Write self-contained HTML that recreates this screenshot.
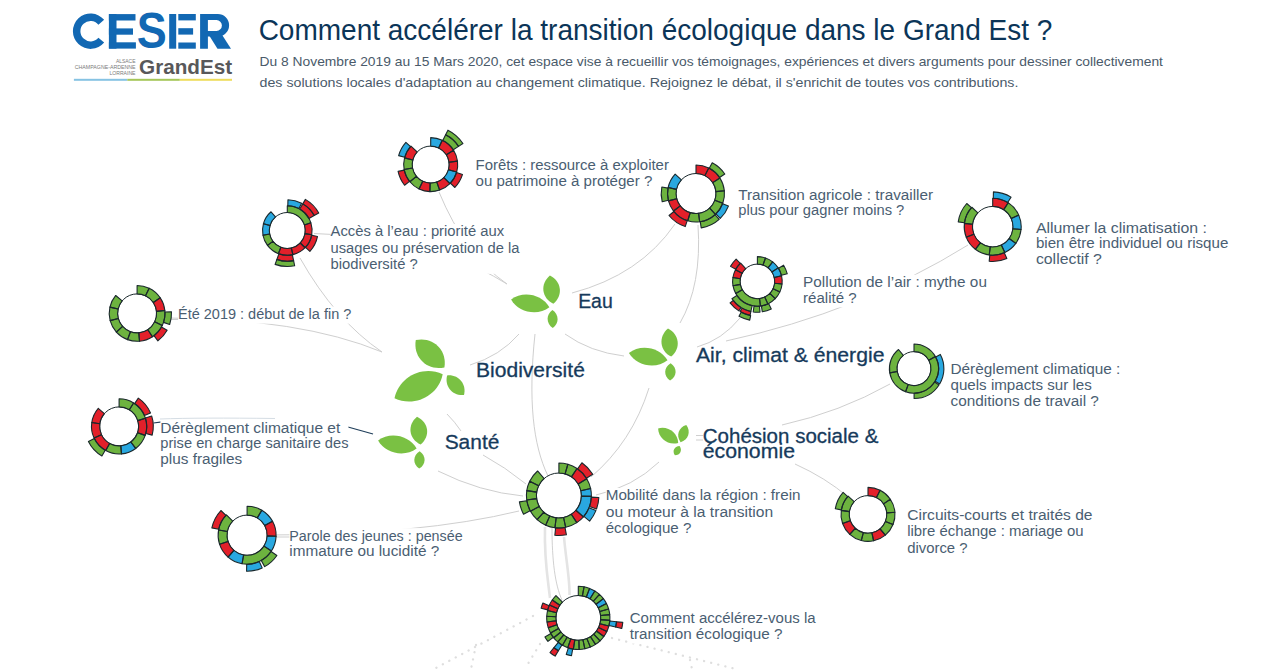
<!DOCTYPE html><html><head><meta charset="utf-8"><style>
html,body{margin:0;padding:0;background:#fff;width:1263px;height:670px;overflow:hidden}
svg{display:block;font-family:"Liberation Sans",sans-serif}
</style></head><body>
<svg width="1263" height="670" viewBox="0 0 1263 670">
<rect width="1263" height="670" fill="#fff"/>
<g fill="#1268b3">
<path d="M104.16,19.82 A17.7,17.7 0 1 0 104.16,42.58 L98.41,37.76 A10.2,10.2 0 1 1 98.41,24.64 Z"/>
<rect x="108.9" y="14.1" width="7.6" height="34.5"/><rect x="108.9" y="14.1" width="26.6" height="6.4"/><rect x="108.9" y="28.4" width="24.1" height="6.3"/><rect x="108.9" y="42.3" width="27" height="6.3"/>
<text transform="translate(136.75,48.4) scale(0.45,0.4986)" font-size="100" font-weight="700">S</text>
<rect x="169.2" y="14" width="7" height="34.7"/><rect x="178.3" y="14" width="17.5" height="6.4"/><rect x="178.3" y="28.2" width="14.8" height="6.4"/><rect x="178.3" y="42.5" width="17.5" height="6.2"/>
<path fill-rule="evenodd" d="M200.1,14 H217.8 A11.3,11.3 0 0 1 217.8,36.6 H207.9 V48.7 H200.1 Z M207.9,20.1 H216.5 A5.4,5.4 0 0 1 216.5,30.9 H207.9 Z"/>
<path d="M209,35.2 L221.5,34 L231,48.7 L217.5,48.7 Z"/>
</g>
<text transform="translate(139.07,74.0) scale(0.207,0.2027)" font-size="100" font-weight="700" fill="#58585a">GrandEst</text>
<text x="135.5" y="62.9" font-size="5.4" fill="#7a7a7a" text-anchor="end" textLength="19.6" lengthAdjust="spacingAndGlyphs">ALSACE</text>
<text x="135.5" y="69.0" font-size="5.4" fill="#7a7a7a" text-anchor="end" textLength="60.7" lengthAdjust="spacingAndGlyphs">CHAMPAGNE-ARDENNE</text>
<text x="135.5" y="74.6" font-size="5.4" fill="#7a7a7a" text-anchor="end" textLength="26.1" lengthAdjust="spacingAndGlyphs">LORRAINE</text>
<rect x="73.9" y="78.8" width="53.4" height="2" fill="#86c3e3"/><rect x="127.3" y="78.8" width="52.5" height="2" fill="#a5c659"/><rect x="179.8" y="78.8" width="52.2" height="2" fill="#eedc5c"/>
<g fill="#0b3558" font-size="29.3">
<text x="258.65" y="40.3" textLength="793.7" lengthAdjust="spacingAndGlyphs">Comment accélérer la transition écologique dans le Grand Est ?</text>
</g>
<g fill="#4a5a6a" font-size="13.4">
<text x="259.56" y="65.6" textLength="903.4" lengthAdjust="spacingAndGlyphs">Du 8 Novembre 2019 au 15 Mars 2020, cet espace vise à recueillir vos témoignages, expériences et divers arguments pour dessiner collectivement</text>
<text x="259.56" y="86.8" textLength="758.9" lengthAdjust="spacingAndGlyphs">des solutions locales d'adaptation au changement climatique. Rejoignez le débat, il s'enrichit de toutes vos contributions.</text>
</g>
<path d="M533,616 L434,669" stroke="#dedede" stroke-width="2.3" stroke-dasharray="0.1,7.2" stroke-linecap="round" fill="none"/>
<path d="M476,645 L471,669" stroke="#dedede" stroke-width="2.3" stroke-dasharray="0.1,7.2" stroke-linecap="round" fill="none"/>
<path d="M540,644 L526,667" stroke="#dedede" stroke-width="2.3" stroke-dasharray="0.1,7.2" stroke-linecap="round" fill="none"/>
<path d="M612,638 L736,669" stroke="#dedede" stroke-width="2.3" stroke-dasharray="0.1,7.2" stroke-linecap="round" fill="none"/>
<path d="M690,660 L692,669" stroke="#dedede" stroke-width="2.3" stroke-dasharray="0.1,7.2" stroke-linecap="round" fill="none"/>
<path d="M439,192 Q465,255 507,284" stroke="#cfcfcf" stroke-width="1" fill="none"/>
<path d="M478,268 Q494,276 507,284" stroke="#cfcfcf" stroke-width="1" fill="none"/>
<path d="M675,224 Q640,275 572,293" stroke="#cfcfcf" stroke-width="1" fill="none"/>
<path d="M698,225 Q702,285 680,323" stroke="#cfcfcf" stroke-width="1" fill="none"/>
<path d="M519,334 Q500,356 470,365" stroke="#cfcfcf" stroke-width="1" fill="none"/>
<path d="M535,334 C528,400 533,445 548,476" stroke="#cfcfcf" stroke-width="1" fill="none"/>
<path d="M565,334 Q590,352 624,356" stroke="#cfcfcf" stroke-width="1" fill="none"/>
<path d="M300,258 Q335,320 382,352" stroke="#cfcfcf" stroke-width="1" fill="none"/>
<path d="M165,318 Q300,318 382,352" stroke="#cfcfcf" stroke-width="1" fill="none"/>
<path d="M649,388 Q632,442 591,477" stroke="#cfcfcf" stroke-width="1" fill="none"/>
<path d="M659,462 Q633,487 596,495" stroke="#cfcfcf" stroke-width="1" fill="none"/>
<path d="M483,455 Q505,467 526,484" stroke="#cfcfcf" stroke-width="1" fill="none"/>
<path d="M438,471 Q480,492 523,496" stroke="#cfcfcf" stroke-width="1" fill="none"/>
<path d="M268,535 Q420,535 519,511" stroke="#cfcfcf" stroke-width="1" fill="none"/>
<path d="M447,414 Q455,422 461,431" stroke="#cfcfcf" stroke-width="1" fill="none"/>
<path d="M968,245 Q860,312 726,341" stroke="#cfcfcf" stroke-width="1" fill="none"/>
<path d="M740,318 Q722,340 697,347" stroke="#cfcfcf" stroke-width="1" fill="none"/>
<path d="M890,384 Q840,412 782,425" stroke="#cfcfcf" stroke-width="1" fill="none"/>
<path d="M795,464 Q826,478 848,497" stroke="#cfcfcf" stroke-width="1" fill="none"/>
<path d="M545,527 C544,560 548,580 550,598" stroke="#e4e4e4" stroke-width="2.6" fill="none"/>
<path d="M564,537 C566,560 570,580 569.5,595" stroke="#e4e4e4" stroke-width="2.6" fill="none"/>
<path d="M552,528 C552,560 555,585 562,600" stroke="#c4c4c4" stroke-width="0.8" fill="none"/>
<path d="M153.5,423 L162,421.8" stroke="#1f3e5a" stroke-width="1.2" fill="none"/>
<path d="M348,427 L373,434" stroke="#1f3e5a" stroke-width="1.2" fill="none"/>
<path d="M160,419 Q200,417.5 275,418.5" stroke="#d5dde4" stroke-width="1" fill="none"/>
<path d="M314,233.5 L331,234.4" stroke="#cfcfcf" stroke-width="1" fill="none"/>
<path d="M157,319.5 L179,319.5" stroke="#cfcfcf" stroke-width="1" fill="none"/>
<path d="M268,537 L290,537" stroke="#cfcfcf" stroke-width="1" fill="none"/>
<path d="M696,435.5 L703,435.5" stroke="#cfcfcf" stroke-width="1" fill="none"/>
<path d="M696,440 L703,440" stroke="#cfcfcf" stroke-width="1" fill="none"/>
<rect x="475.6" y="157.6" width="193.2" height="32.9" fill="#fff"/>
<g fill="#4a5e72" font-size="15.5">
<text x="475.52" y="170" textLength="193.4" lengthAdjust="spacingAndGlyphs">Forêts : ressource à exploiter</text>
<text x="475.52" y="185.8" textLength="176.8" lengthAdjust="spacingAndGlyphs">ou patrimoine à protéger ?</text>
</g>
<rect x="330.6" y="224.0" width="188.7" height="49.8" fill="#fff"/>
<g fill="#4a5e72" font-size="15.5">
<text x="330.52" y="236.4" textLength="173.6" lengthAdjust="spacingAndGlyphs">Accès à l’eau : priorité aux</text>
<text x="330.52" y="252.6" textLength="188.9" lengthAdjust="spacingAndGlyphs">usages ou préservation de la</text>
<text x="330.52" y="269.2" textLength="87.2" lengthAdjust="spacingAndGlyphs">biodiversité ?</text>
</g>
<rect x="178.1" y="306.6" width="173.1" height="17.0" fill="#fff"/>
<g fill="#4a5e72" font-size="15.5">
<text x="178.01" y="319" textLength="173.3" lengthAdjust="spacingAndGlyphs">Été 2019 : début de la fin ?</text>
</g>
<rect x="738.3" y="187.3" width="194.7" height="31.9" fill="#fff"/>
<g fill="#4a5e72" font-size="15.5">
<text x="738.21" y="199.7" textLength="194.9" lengthAdjust="spacingAndGlyphs">Transition agricole : travailler</text>
<text x="738.21" y="214.5" textLength="166.1" lengthAdjust="spacingAndGlyphs">plus pour gagner moins ?</text>
</g>
<rect x="1036.0" y="220.2" width="192.2" height="47.9" fill="#fff"/>
<g fill="#4a5e72" font-size="15.5">
<text x="1035.91" y="232.6" textLength="171.0" lengthAdjust="spacingAndGlyphs">Allumer la climatisation :</text>
<text x="1035.91" y="248" textLength="192.4" lengthAdjust="spacingAndGlyphs">bien être individuel ou risque</text>
<text x="1035.91" y="263.5" textLength="66.0" lengthAdjust="spacingAndGlyphs">collectif ?</text>
</g>
<rect x="803.2" y="274.7" width="183.6" height="32.7" fill="#fff"/>
<g fill="#4a5e72" font-size="15.5">
<text x="803.12" y="287.1" textLength="183.8" lengthAdjust="spacingAndGlyphs">Pollution de l’air : mythe ou</text>
<text x="803.12" y="302.8" textLength="53.5" lengthAdjust="spacingAndGlyphs">réalité ?</text>
</g>
<rect x="950.6" y="361.6" width="169.6" height="49.0" fill="#fff"/>
<g fill="#4a5e72" font-size="15.5">
<text x="950.51" y="374" textLength="169.8" lengthAdjust="spacingAndGlyphs">Dérèglement climatique :</text>
<text x="950.51" y="389.7" textLength="141.3" lengthAdjust="spacingAndGlyphs">quels impacts sur les</text>
<text x="950.51" y="406" textLength="148.4" lengthAdjust="spacingAndGlyphs">conditions de travail ?</text>
</g>
<rect x="160.4" y="420.4" width="188.0" height="47.8" fill="#fff"/>
<g fill="#4a5e72" font-size="15.5">
<text x="160.31" y="432.8" textLength="180.0" lengthAdjust="spacingAndGlyphs">Dérèglement climatique et</text>
<text x="160.31" y="448" textLength="188.2" lengthAdjust="spacingAndGlyphs">prise en charge sanitaire des</text>
<text x="160.31" y="463.6" textLength="81.8" lengthAdjust="spacingAndGlyphs">plus fragiles</text>
</g>
<rect x="605.8" y="488.0" width="194.6" height="49.6" fill="#fff"/>
<g fill="#4a5e72" font-size="15.5">
<text x="605.71" y="500.4" textLength="194.8" lengthAdjust="spacingAndGlyphs">Mobilité dans la région : frein</text>
<text x="605.71" y="516.6" textLength="167.5" lengthAdjust="spacingAndGlyphs">ou moteur à la transition</text>
<text x="605.71" y="533" textLength="85.6" lengthAdjust="spacingAndGlyphs">écologique ?</text>
</g>
<rect x="289.4" y="528.2" width="173.1" height="32.8" fill="#fff"/>
<g fill="#4a5e72" font-size="15.5">
<text x="289.31" y="540.6" textLength="173.3" lengthAdjust="spacingAndGlyphs">Parole des jeunes : pensée</text>
<text x="289.31" y="556.4" textLength="149.9" lengthAdjust="spacingAndGlyphs">immature ou lucidité ?</text>
</g>
<rect x="907.3" y="507.4" width="185.1" height="49.8" fill="#fff"/>
<g fill="#4a5e72" font-size="15.5">
<text x="907.21" y="519.8" textLength="185.3" lengthAdjust="spacingAndGlyphs">Circuits-courts et traités de</text>
<text x="907.21" y="536" textLength="176.4" lengthAdjust="spacingAndGlyphs">libre échange : mariage ou</text>
<text x="907.21" y="552.5" textLength="60.3" lengthAdjust="spacingAndGlyphs">divorce ?</text>
</g>
<rect x="629.8" y="610.4" width="185.7" height="33.2" fill="#fff"/>
<g fill="#4a5e72" font-size="15.5">
<text x="629.71" y="622.8" textLength="185.9" lengthAdjust="spacingAndGlyphs">Comment accélérez-vous la</text>
<text x="629.71" y="639" textLength="152.7" lengthAdjust="spacingAndGlyphs">transition écologique ?</text>
</g>
<circle cx="430.7" cy="164.6" r="18.5" fill="#fff" stroke="#1a282c" stroke-width="1"/>
<path d="M430.70,137.60A27,27 0 0 1 442.28,140.21L438.64,147.89A18.5,18.5 0 0 0 430.70,146.10Z" fill="#29a8e0"/>
<path d="M442.28,140.21A27,27 0 0 1 453.60,150.29L446.39,154.80A18.5,18.5 0 0 0 438.64,147.89Z" fill="#e3202a"/>
<path d="M445.61,134.82A33.3,33.3 0 0 1 458.56,146.37L453.29,149.82A27,27 0 0 0 442.79,140.46Z" fill="#6db33f"/>
<path d="M447.94,130.18A38.5,38.5 0 0 1 462.92,143.52L458.56,146.37A33.3,33.3 0 0 0 445.61,134.82Z" fill="#6db33f"/>
<path d="M453.60,150.29A27,27 0 0 1 457.48,161.17L449.05,162.25A18.5,18.5 0 0 0 446.39,154.80Z" fill="#e3202a"/>
<path d="M457.48,161.17A27,27 0 0 1 456.65,172.04L448.48,169.70A18.5,18.5 0 0 0 449.05,162.25Z" fill="#e3202a"/>
<path d="M456.65,172.04A27,27 0 0 1 449.92,183.56L443.87,177.59A18.5,18.5 0 0 0 448.48,169.70Z" fill="#29a8e0"/>
<path d="M462.51,174.45A33.3,33.3 0 0 1 454.89,187.48L450.32,183.15A27,27 0 0 0 456.49,172.58Z" fill="#e3202a"/>
<path d="M449.92,183.56A27,27 0 0 1 439.62,190.08L436.81,182.06A18.5,18.5 0 0 0 443.87,177.59Z" fill="#e3202a"/>
<path d="M439.62,190.08A27,27 0 0 1 429.90,191.59L430.15,183.09A18.5,18.5 0 0 0 436.81,182.06Z" fill="#6db33f"/>
<path d="M429.90,191.59A27,27 0 0 1 419.08,188.97L422.74,181.30A18.5,18.5 0 0 0 430.15,183.09Z" fill="#e3202a"/>
<path d="M419.08,188.97A27,27 0 0 1 409.87,181.77L416.42,176.37A18.5,18.5 0 0 0 422.74,181.30Z" fill="#6db33f"/>
<path d="M409.87,181.77A27,27 0 0 1 404.16,169.57L412.52,168.00A18.5,18.5 0 0 0 416.42,176.37Z" fill="#6db33f"/>
<path d="M404.57,185.24A33.3,33.3 0 0 1 398.10,171.41L404.27,170.12A27,27 0 0 0 409.51,181.33Z" fill="#e3202a"/>
<path d="M404.16,169.57A27,27 0 0 1 404.55,157.89L412.78,160.00A18.5,18.5 0 0 0 412.52,168.00Z" fill="#6db33f"/>
<path d="M404.55,157.89A27,27 0 0 1 410.95,146.19L417.17,151.98A18.5,18.5 0 0 0 412.78,160.00Z" fill="#e3202a"/>
<path d="M398.63,155.64A33.3,33.3 0 0 1 405.88,142.40L410.57,146.60A27,27 0 0 0 404.69,157.34Z" fill="#29a8e0"/>
<path d="M430.70,137.60A27,27 0 0 1 442.28,140.21L438.64,147.89A18.5,18.5 0 0 0 430.70,146.10Z" fill="none" stroke="#1a282c" stroke-width="1.1" stroke-linejoin="round"/>
<path d="M442.28,140.21A27,27 0 0 1 453.60,150.29L446.39,154.80A18.5,18.5 0 0 0 438.64,147.89Z" fill="none" stroke="#1a282c" stroke-width="1.1" stroke-linejoin="round"/>
<path d="M445.61,134.82A33.3,33.3 0 0 1 458.56,146.37L453.29,149.82A27,27 0 0 0 442.79,140.46Z" fill="none" stroke="#1a282c" stroke-width="1.1" stroke-linejoin="round"/>
<path d="M447.94,130.18A38.5,38.5 0 0 1 462.92,143.52L458.56,146.37A33.3,33.3 0 0 0 445.61,134.82Z" fill="none" stroke="#1a282c" stroke-width="1.1" stroke-linejoin="round"/>
<path d="M453.60,150.29A27,27 0 0 1 457.48,161.17L449.05,162.25A18.5,18.5 0 0 0 446.39,154.80Z" fill="none" stroke="#1a282c" stroke-width="1.1" stroke-linejoin="round"/>
<path d="M457.48,161.17A27,27 0 0 1 456.65,172.04L448.48,169.70A18.5,18.5 0 0 0 449.05,162.25Z" fill="none" stroke="#1a282c" stroke-width="1.1" stroke-linejoin="round"/>
<path d="M456.65,172.04A27,27 0 0 1 449.92,183.56L443.87,177.59A18.5,18.5 0 0 0 448.48,169.70Z" fill="none" stroke="#1a282c" stroke-width="1.1" stroke-linejoin="round"/>
<path d="M462.51,174.45A33.3,33.3 0 0 1 454.89,187.48L450.32,183.15A27,27 0 0 0 456.49,172.58Z" fill="none" stroke="#1a282c" stroke-width="1.1" stroke-linejoin="round"/>
<path d="M449.92,183.56A27,27 0 0 1 439.62,190.08L436.81,182.06A18.5,18.5 0 0 0 443.87,177.59Z" fill="none" stroke="#1a282c" stroke-width="1.1" stroke-linejoin="round"/>
<path d="M439.62,190.08A27,27 0 0 1 429.90,191.59L430.15,183.09A18.5,18.5 0 0 0 436.81,182.06Z" fill="none" stroke="#1a282c" stroke-width="1.1" stroke-linejoin="round"/>
<path d="M429.90,191.59A27,27 0 0 1 419.08,188.97L422.74,181.30A18.5,18.5 0 0 0 430.15,183.09Z" fill="none" stroke="#1a282c" stroke-width="1.1" stroke-linejoin="round"/>
<path d="M419.08,188.97A27,27 0 0 1 409.87,181.77L416.42,176.37A18.5,18.5 0 0 0 422.74,181.30Z" fill="none" stroke="#1a282c" stroke-width="1.1" stroke-linejoin="round"/>
<path d="M409.87,181.77A27,27 0 0 1 404.16,169.57L412.52,168.00A18.5,18.5 0 0 0 416.42,176.37Z" fill="none" stroke="#1a282c" stroke-width="1.1" stroke-linejoin="round"/>
<path d="M404.57,185.24A33.3,33.3 0 0 1 398.10,171.41L404.27,170.12A27,27 0 0 0 409.51,181.33Z" fill="none" stroke="#1a282c" stroke-width="1.1" stroke-linejoin="round"/>
<path d="M404.16,169.57A27,27 0 0 1 404.55,157.89L412.78,160.00A18.5,18.5 0 0 0 412.52,168.00Z" fill="none" stroke="#1a282c" stroke-width="1.1" stroke-linejoin="round"/>
<path d="M404.55,157.89A27,27 0 0 1 410.95,146.19L417.17,151.98A18.5,18.5 0 0 0 412.78,160.00Z" fill="none" stroke="#1a282c" stroke-width="1.1" stroke-linejoin="round"/>
<path d="M398.63,155.64A33.3,33.3 0 0 1 405.88,142.40L410.57,146.60A27,27 0 0 0 404.69,157.34Z" fill="none" stroke="#1a282c" stroke-width="1.1" stroke-linejoin="round"/>
<circle cx="287.3" cy="230.5" r="18" fill="#fff" stroke="#1a282c" stroke-width="1"/>
<path d="M287.30,205.70A24.8,24.8 0 0 1 310.89,222.84L304.42,224.94A18,18 0 0 0 287.30,212.50Z" fill="#6db33f"/>
<path d="M287.95,199.71A30.8,30.8 0 0 1 301.66,203.25L298.87,208.56A24.8,24.8 0 0 0 287.82,205.71Z" fill="#29a8e0"/>
<path d="M302.79,203.88A30.8,30.8 0 0 1 314.19,215.47L308.95,218.40A24.8,24.8 0 0 0 299.77,209.07Z" fill="#e3202a"/>
<path d="M305.41,199.39A36,36 0 0 1 318.73,212.94L314.19,215.47A30.8,30.8 0 0 0 302.79,203.88Z" fill="#e3202a"/>
<path d="M310.89,222.84A24.8,24.8 0 0 1 311.72,234.81L305.03,233.63A18,18 0 0 0 304.42,224.94Z" fill="#e3202a"/>
<path d="M311.72,234.81A24.8,24.8 0 0 1 305.14,247.73L300.25,243.00A18,18 0 0 0 305.03,233.63Z" fill="#e3202a"/>
<path d="M317.51,236.48A30.8,30.8 0 0 1 309.90,251.43L305.50,247.35A24.8,24.8 0 0 0 311.63,235.32Z" fill="#e3202a"/>
<path d="M305.14,247.73A24.8,24.8 0 0 1 292.88,254.66L291.35,248.04A18,18 0 0 0 300.25,243.00Z" fill="#e3202a"/>
<path d="M292.88,254.66A24.8,24.8 0 0 1 278.41,253.65L280.85,247.30A18,18 0 0 0 291.35,248.04Z" fill="#e3202a"/>
<path d="M293.60,260.65A30.8,30.8 0 0 1 276.87,259.48L278.90,253.83A24.8,24.8 0 0 0 292.37,254.78Z" fill="#e3202a"/>
<path d="M294.66,265.74A36,36 0 0 1 275.11,264.37L276.87,259.48A30.8,30.8 0 0 0 293.60,260.65Z" fill="#6db33f"/>
<path d="M278.41,253.65A24.8,24.8 0 0 1 267.49,245.43L272.92,241.33A18,18 0 0 0 280.85,247.30Z" fill="#6db33f"/>
<path d="M267.49,245.43A24.8,24.8 0 0 1 262.96,235.23L269.63,233.93A18,18 0 0 0 272.92,241.33Z" fill="#6db33f"/>
<path d="M262.96,235.23A24.8,24.8 0 0 1 263.46,223.66L270.00,225.54A18,18 0 0 0 269.63,233.93Z" fill="#29a8e0"/>
<path d="M263.46,223.66A24.8,24.8 0 0 1 271.03,211.78L275.49,216.92A18,18 0 0 0 270.00,225.54Z" fill="#29a8e0"/>
<path d="M287.30,205.70A24.8,24.8 0 0 1 310.89,222.84L304.42,224.94A18,18 0 0 0 287.30,212.50Z" fill="none" stroke="#1a282c" stroke-width="1.1" stroke-linejoin="round"/>
<path d="M287.95,199.71A30.8,30.8 0 0 1 301.66,203.25L298.87,208.56A24.8,24.8 0 0 0 287.82,205.71Z" fill="none" stroke="#1a282c" stroke-width="1.1" stroke-linejoin="round"/>
<path d="M302.79,203.88A30.8,30.8 0 0 1 314.19,215.47L308.95,218.40A24.8,24.8 0 0 0 299.77,209.07Z" fill="none" stroke="#1a282c" stroke-width="1.1" stroke-linejoin="round"/>
<path d="M305.41,199.39A36,36 0 0 1 318.73,212.94L314.19,215.47A30.8,30.8 0 0 0 302.79,203.88Z" fill="none" stroke="#1a282c" stroke-width="1.1" stroke-linejoin="round"/>
<path d="M310.89,222.84A24.8,24.8 0 0 1 311.72,234.81L305.03,233.63A18,18 0 0 0 304.42,224.94Z" fill="none" stroke="#1a282c" stroke-width="1.1" stroke-linejoin="round"/>
<path d="M311.72,234.81A24.8,24.8 0 0 1 305.14,247.73L300.25,243.00A18,18 0 0 0 305.03,233.63Z" fill="none" stroke="#1a282c" stroke-width="1.1" stroke-linejoin="round"/>
<path d="M317.51,236.48A30.8,30.8 0 0 1 309.90,251.43L305.50,247.35A24.8,24.8 0 0 0 311.63,235.32Z" fill="none" stroke="#1a282c" stroke-width="1.1" stroke-linejoin="round"/>
<path d="M305.14,247.73A24.8,24.8 0 0 1 292.88,254.66L291.35,248.04A18,18 0 0 0 300.25,243.00Z" fill="none" stroke="#1a282c" stroke-width="1.1" stroke-linejoin="round"/>
<path d="M292.88,254.66A24.8,24.8 0 0 1 278.41,253.65L280.85,247.30A18,18 0 0 0 291.35,248.04Z" fill="none" stroke="#1a282c" stroke-width="1.1" stroke-linejoin="round"/>
<path d="M293.60,260.65A30.8,30.8 0 0 1 276.87,259.48L278.90,253.83A24.8,24.8 0 0 0 292.37,254.78Z" fill="none" stroke="#1a282c" stroke-width="1.1" stroke-linejoin="round"/>
<path d="M294.66,265.74A36,36 0 0 1 275.11,264.37L276.87,259.48A30.8,30.8 0 0 0 293.60,260.65Z" fill="none" stroke="#1a282c" stroke-width="1.1" stroke-linejoin="round"/>
<path d="M278.41,253.65A24.8,24.8 0 0 1 267.49,245.43L272.92,241.33A18,18 0 0 0 280.85,247.30Z" fill="none" stroke="#1a282c" stroke-width="1.1" stroke-linejoin="round"/>
<path d="M267.49,245.43A24.8,24.8 0 0 1 262.96,235.23L269.63,233.93A18,18 0 0 0 272.92,241.33Z" fill="none" stroke="#1a282c" stroke-width="1.1" stroke-linejoin="round"/>
<path d="M262.96,235.23A24.8,24.8 0 0 1 263.46,223.66L270.00,225.54A18,18 0 0 0 269.63,233.93Z" fill="none" stroke="#1a282c" stroke-width="1.1" stroke-linejoin="round"/>
<path d="M263.46,223.66A24.8,24.8 0 0 1 271.03,211.78L275.49,216.92A18,18 0 0 0 270.00,225.54Z" fill="none" stroke="#1a282c" stroke-width="1.1" stroke-linejoin="round"/>
<circle cx="137.1" cy="313.4" r="19.5" fill="#fff" stroke="#1a282c" stroke-width="1"/>
<path d="M137.10,285.50A27.9,27.9 0 0 1 149.16,288.24L145.53,295.81A19.5,19.5 0 0 0 137.10,293.90Z" fill="#6db33f"/>
<path d="M149.16,288.24A27.9,27.9 0 0 1 160.23,297.80L153.27,302.50A19.5,19.5 0 0 0 145.53,295.81Z" fill="#6db33f"/>
<path d="M160.23,297.80A27.9,27.9 0 0 1 164.85,310.48L156.49,311.36A19.5,19.5 0 0 0 153.27,302.50Z" fill="#e3202a"/>
<path d="M164.85,310.48A27.9,27.9 0 0 1 162.28,325.41L154.70,321.79A19.5,19.5 0 0 0 156.49,311.36Z" fill="#6db33f"/>
<path d="M162.28,325.41A27.9,27.9 0 0 1 152.46,336.69L147.83,329.68A19.5,19.5 0 0 0 154.70,321.79Z" fill="#6db33f"/>
<path d="M152.46,336.69A27.9,27.9 0 0 1 139.53,341.19L138.80,332.83A19.5,19.5 0 0 0 147.83,329.68Z" fill="#e3202a"/>
<path d="M139.53,341.19A27.9,27.9 0 0 1 127.56,339.62L130.43,331.72A19.5,19.5 0 0 0 138.80,332.83Z" fill="#6db33f"/>
<path d="M127.56,339.62A27.9,27.9 0 0 1 116.37,332.07L122.61,326.45A19.5,19.5 0 0 0 130.43,331.72Z" fill="#6db33f"/>
<path d="M116.37,332.07A27.9,27.9 0 0 1 110.15,320.62L118.26,318.45A19.5,19.5 0 0 0 122.61,326.45Z" fill="#6db33f"/>
<path d="M110.15,320.62A27.9,27.9 0 0 1 109.92,307.12L118.10,309.01A19.5,19.5 0 0 0 118.26,318.45Z" fill="#6db33f"/>
<path d="M109.92,307.12A27.9,27.9 0 0 1 115.73,295.47L122.16,300.87A19.5,19.5 0 0 0 118.10,309.01Z" fill="#6db33f"/>
<path d="M171.46,311.72A34.4,34.4 0 0 1 169.66,324.49L163.51,322.39A27.9,27.9 0 0 0 164.97,312.04Z" fill="#6db33f"/>
<path d="M167.13,330.18A34.4,34.4 0 0 1 157.90,340.80L153.97,335.62A27.9,27.9 0 0 0 161.45,327.01Z" fill="#e3202a"/>
<path d="M137.10,285.50A27.9,27.9 0 0 1 149.16,288.24L145.53,295.81A19.5,19.5 0 0 0 137.10,293.90Z" fill="none" stroke="#1a282c" stroke-width="1.1" stroke-linejoin="round"/>
<path d="M149.16,288.24A27.9,27.9 0 0 1 160.23,297.80L153.27,302.50A19.5,19.5 0 0 0 145.53,295.81Z" fill="none" stroke="#1a282c" stroke-width="1.1" stroke-linejoin="round"/>
<path d="M160.23,297.80A27.9,27.9 0 0 1 164.85,310.48L156.49,311.36A19.5,19.5 0 0 0 153.27,302.50Z" fill="none" stroke="#1a282c" stroke-width="1.1" stroke-linejoin="round"/>
<path d="M164.85,310.48A27.9,27.9 0 0 1 162.28,325.41L154.70,321.79A19.5,19.5 0 0 0 156.49,311.36Z" fill="none" stroke="#1a282c" stroke-width="1.1" stroke-linejoin="round"/>
<path d="M162.28,325.41A27.9,27.9 0 0 1 152.46,336.69L147.83,329.68A19.5,19.5 0 0 0 154.70,321.79Z" fill="none" stroke="#1a282c" stroke-width="1.1" stroke-linejoin="round"/>
<path d="M152.46,336.69A27.9,27.9 0 0 1 139.53,341.19L138.80,332.83A19.5,19.5 0 0 0 147.83,329.68Z" fill="none" stroke="#1a282c" stroke-width="1.1" stroke-linejoin="round"/>
<path d="M139.53,341.19A27.9,27.9 0 0 1 127.56,339.62L130.43,331.72A19.5,19.5 0 0 0 138.80,332.83Z" fill="none" stroke="#1a282c" stroke-width="1.1" stroke-linejoin="round"/>
<path d="M127.56,339.62A27.9,27.9 0 0 1 116.37,332.07L122.61,326.45A19.5,19.5 0 0 0 130.43,331.72Z" fill="none" stroke="#1a282c" stroke-width="1.1" stroke-linejoin="round"/>
<path d="M116.37,332.07A27.9,27.9 0 0 1 110.15,320.62L118.26,318.45A19.5,19.5 0 0 0 122.61,326.45Z" fill="none" stroke="#1a282c" stroke-width="1.1" stroke-linejoin="round"/>
<path d="M110.15,320.62A27.9,27.9 0 0 1 109.92,307.12L118.10,309.01A19.5,19.5 0 0 0 118.26,318.45Z" fill="none" stroke="#1a282c" stroke-width="1.1" stroke-linejoin="round"/>
<path d="M109.92,307.12A27.9,27.9 0 0 1 115.73,295.47L122.16,300.87A19.5,19.5 0 0 0 118.10,309.01Z" fill="none" stroke="#1a282c" stroke-width="1.1" stroke-linejoin="round"/>
<path d="M171.46,311.72A34.4,34.4 0 0 1 169.66,324.49L163.51,322.39A27.9,27.9 0 0 0 164.97,312.04Z" fill="none" stroke="#1a282c" stroke-width="1.1" stroke-linejoin="round"/>
<path d="M167.13,330.18A34.4,34.4 0 0 1 157.90,340.80L153.97,335.62A27.9,27.9 0 0 0 161.45,327.01Z" fill="none" stroke="#1a282c" stroke-width="1.1" stroke-linejoin="round"/>
<circle cx="696" cy="193.5" r="20" fill="#fff" stroke="#1a282c" stroke-width="1"/>
<path d="M696.00,165.00A28.5,28.5 0 0 1 708.76,168.02L704.96,175.62A20,20 0 0 0 696.00,173.50Z" fill="#e3202a"/>
<path d="M708.76,168.02A28.5,28.5 0 0 1 719.90,177.98L712.77,182.61A20,20 0 0 0 704.96,175.62Z" fill="#e3202a"/>
<path d="M712.23,162.72A34.8,34.8 0 0 1 724.78,173.94L719.57,177.48A28.5,28.5 0 0 0 709.29,168.29Z" fill="#6db33f"/>
<path d="M719.90,177.98A28.5,28.5 0 0 1 724.37,190.82L715.91,191.62A20,20 0 0 0 712.77,182.61Z" fill="#6db33f"/>
<path d="M724.37,190.82A28.5,28.5 0 0 1 722.78,203.25L714.79,200.34A20,20 0 0 0 715.91,191.62Z" fill="#6db33f"/>
<path d="M722.78,203.25A28.5,28.5 0 0 1 715.44,214.34L709.64,208.13A20,20 0 0 0 714.79,200.34Z" fill="#6db33f"/>
<path d="M728.44,206.08A34.8,34.8 0 0 1 720.26,218.45L715.87,213.93A28.5,28.5 0 0 0 722.57,203.81Z" fill="#29a8e0"/>
<path d="M715.44,214.34A28.5,28.5 0 0 1 699.67,221.76L698.58,213.33A20,20 0 0 0 709.64,208.13Z" fill="#6db33f"/>
<path d="M719.20,219.44A34.8,34.8 0 0 1 701.20,227.91L700.26,221.68A28.5,28.5 0 0 0 715.00,214.75Z" fill="#6db33f"/>
<path d="M699.67,221.76A28.5,28.5 0 0 1 687.76,220.78L690.22,212.65A20,20 0 0 0 698.58,213.33Z" fill="#6db33f"/>
<path d="M687.76,220.78A28.5,28.5 0 0 1 673.54,211.05L680.24,205.81A20,20 0 0 0 690.22,212.65Z" fill="#e3202a"/>
<path d="M685.25,226.60A34.8,34.8 0 0 1 669.03,215.49L673.91,211.51A28.5,28.5 0 0 0 687.19,220.61Z" fill="#e3202a"/>
<path d="M673.54,211.05A28.5,28.5 0 0 1 668.47,200.88L676.68,198.68A20,20 0 0 0 680.24,205.81Z" fill="#e3202a"/>
<path d="M668.47,200.88A28.5,28.5 0 0 1 668.12,187.57L676.44,189.34A20,20 0 0 0 676.68,198.68Z" fill="#6db33f"/>
<path d="M662.20,201.80A34.8,34.8 0 0 1 661.82,186.98L668.00,188.16A28.5,28.5 0 0 0 668.32,200.30Z" fill="#6db33f"/>
<path d="M668.12,187.57A28.5,28.5 0 0 1 675.16,174.06L681.37,179.86A20,20 0 0 0 676.44,189.34Z" fill="#29a8e0"/>
<path d="M696.00,165.00A28.5,28.5 0 0 1 708.76,168.02L704.96,175.62A20,20 0 0 0 696.00,173.50Z" fill="none" stroke="#1a282c" stroke-width="1.1" stroke-linejoin="round"/>
<path d="M708.76,168.02A28.5,28.5 0 0 1 719.90,177.98L712.77,182.61A20,20 0 0 0 704.96,175.62Z" fill="none" stroke="#1a282c" stroke-width="1.1" stroke-linejoin="round"/>
<path d="M712.23,162.72A34.8,34.8 0 0 1 724.78,173.94L719.57,177.48A28.5,28.5 0 0 0 709.29,168.29Z" fill="none" stroke="#1a282c" stroke-width="1.1" stroke-linejoin="round"/>
<path d="M719.90,177.98A28.5,28.5 0 0 1 724.37,190.82L715.91,191.62A20,20 0 0 0 712.77,182.61Z" fill="none" stroke="#1a282c" stroke-width="1.1" stroke-linejoin="round"/>
<path d="M724.37,190.82A28.5,28.5 0 0 1 722.78,203.25L714.79,200.34A20,20 0 0 0 715.91,191.62Z" fill="none" stroke="#1a282c" stroke-width="1.1" stroke-linejoin="round"/>
<path d="M722.78,203.25A28.5,28.5 0 0 1 715.44,214.34L709.64,208.13A20,20 0 0 0 714.79,200.34Z" fill="none" stroke="#1a282c" stroke-width="1.1" stroke-linejoin="round"/>
<path d="M728.44,206.08A34.8,34.8 0 0 1 720.26,218.45L715.87,213.93A28.5,28.5 0 0 0 722.57,203.81Z" fill="none" stroke="#1a282c" stroke-width="1.1" stroke-linejoin="round"/>
<path d="M715.44,214.34A28.5,28.5 0 0 1 699.67,221.76L698.58,213.33A20,20 0 0 0 709.64,208.13Z" fill="none" stroke="#1a282c" stroke-width="1.1" stroke-linejoin="round"/>
<path d="M719.20,219.44A34.8,34.8 0 0 1 701.20,227.91L700.26,221.68A28.5,28.5 0 0 0 715.00,214.75Z" fill="none" stroke="#1a282c" stroke-width="1.1" stroke-linejoin="round"/>
<path d="M699.67,221.76A28.5,28.5 0 0 1 687.76,220.78L690.22,212.65A20,20 0 0 0 698.58,213.33Z" fill="none" stroke="#1a282c" stroke-width="1.1" stroke-linejoin="round"/>
<path d="M687.76,220.78A28.5,28.5 0 0 1 673.54,211.05L680.24,205.81A20,20 0 0 0 690.22,212.65Z" fill="none" stroke="#1a282c" stroke-width="1.1" stroke-linejoin="round"/>
<path d="M685.25,226.60A34.8,34.8 0 0 1 669.03,215.49L673.91,211.51A28.5,28.5 0 0 0 687.19,220.61Z" fill="none" stroke="#1a282c" stroke-width="1.1" stroke-linejoin="round"/>
<path d="M673.54,211.05A28.5,28.5 0 0 1 668.47,200.88L676.68,198.68A20,20 0 0 0 680.24,205.81Z" fill="none" stroke="#1a282c" stroke-width="1.1" stroke-linejoin="round"/>
<path d="M668.47,200.88A28.5,28.5 0 0 1 668.12,187.57L676.44,189.34A20,20 0 0 0 676.68,198.68Z" fill="none" stroke="#1a282c" stroke-width="1.1" stroke-linejoin="round"/>
<path d="M662.20,201.80A34.8,34.8 0 0 1 661.82,186.98L668.00,188.16A28.5,28.5 0 0 0 668.32,200.30Z" fill="none" stroke="#1a282c" stroke-width="1.1" stroke-linejoin="round"/>
<path d="M668.12,187.57A28.5,28.5 0 0 1 675.16,174.06L681.37,179.86A20,20 0 0 0 676.44,189.34Z" fill="none" stroke="#1a282c" stroke-width="1.1" stroke-linejoin="round"/>
<circle cx="992.7" cy="226.7" r="20.3" fill="#fff" stroke="#1a282c" stroke-width="1"/>
<path d="M992.70,198.20A28.5,28.5 0 0 1 1008.22,202.80L1003.76,209.67A20.3,20.3 0 0 0 992.70,206.40Z" fill="#e3202a"/>
<path d="M993.43,191.91A34.8,34.8 0 0 1 1011.04,197.12L1007.72,202.48A28.5,28.5 0 0 0 993.30,198.21Z" fill="#29a8e0"/>
<path d="M1008.22,202.80A28.5,28.5 0 0 1 1018.74,215.11L1011.24,218.44A20.3,20.3 0 0 0 1003.76,209.67Z" fill="#6db33f"/>
<path d="M1018.74,215.11A28.5,28.5 0 0 1 1021.06,229.48L1012.90,228.68A20.3,20.3 0 0 0 1011.24,218.44Z" fill="#29a8e0"/>
<path d="M1021.06,229.48A28.5,28.5 0 0 1 1015.82,243.37L1009.16,238.57A20.3,20.3 0 0 0 1012.90,228.68Z" fill="#6db33f"/>
<path d="M1015.82,243.37A28.5,28.5 0 0 1 1004.83,252.49L1001.34,245.07A20.3,20.3 0 0 0 1009.16,238.57Z" fill="#29a8e0"/>
<path d="M1004.83,252.49A28.5,28.5 0 0 1 989.23,254.99L990.23,246.85A20.3,20.3 0 0 0 1001.34,245.07Z" fill="#6db33f"/>
<path d="M1006.85,258.49A34.8,34.8 0 0 1 989.18,261.32L989.82,255.05A28.5,28.5 0 0 0 1004.29,252.74Z" fill="#e3202a"/>
<path d="M989.23,254.99A28.5,28.5 0 0 1 975.35,249.31L980.34,242.81A20.3,20.3 0 0 0 990.23,246.85Z" fill="#6db33f"/>
<path d="M975.35,249.31A28.5,28.5 0 0 1 966.18,237.15L973.81,234.14A20.3,20.3 0 0 0 980.34,242.81Z" fill="#e3202a"/>
<path d="M966.18,237.15A28.5,28.5 0 0 1 964.40,223.33L972.54,224.30A20.3,20.3 0 0 0 973.81,234.14Z" fill="#e3202a"/>
<path d="M964.40,223.33A28.5,28.5 0 0 1 971.86,207.26L977.85,212.86A20.3,20.3 0 0 0 972.54,224.30Z" fill="#6db33f"/>
<path d="M958.24,221.86A34.8,34.8 0 0 1 966.76,203.50L971.45,207.70A28.5,28.5 0 0 0 964.48,222.73Z" fill="#6db33f"/>
<path d="M992.70,198.20A28.5,28.5 0 0 1 1008.22,202.80L1003.76,209.67A20.3,20.3 0 0 0 992.70,206.40Z" fill="none" stroke="#1a282c" stroke-width="1.1" stroke-linejoin="round"/>
<path d="M993.43,191.91A34.8,34.8 0 0 1 1011.04,197.12L1007.72,202.48A28.5,28.5 0 0 0 993.30,198.21Z" fill="none" stroke="#1a282c" stroke-width="1.1" stroke-linejoin="round"/>
<path d="M1008.22,202.80A28.5,28.5 0 0 1 1018.74,215.11L1011.24,218.44A20.3,20.3 0 0 0 1003.76,209.67Z" fill="none" stroke="#1a282c" stroke-width="1.1" stroke-linejoin="round"/>
<path d="M1018.74,215.11A28.5,28.5 0 0 1 1021.06,229.48L1012.90,228.68A20.3,20.3 0 0 0 1011.24,218.44Z" fill="none" stroke="#1a282c" stroke-width="1.1" stroke-linejoin="round"/>
<path d="M1021.06,229.48A28.5,28.5 0 0 1 1015.82,243.37L1009.16,238.57A20.3,20.3 0 0 0 1012.90,228.68Z" fill="none" stroke="#1a282c" stroke-width="1.1" stroke-linejoin="round"/>
<path d="M1015.82,243.37A28.5,28.5 0 0 1 1004.83,252.49L1001.34,245.07A20.3,20.3 0 0 0 1009.16,238.57Z" fill="none" stroke="#1a282c" stroke-width="1.1" stroke-linejoin="round"/>
<path d="M1004.83,252.49A28.5,28.5 0 0 1 989.23,254.99L990.23,246.85A20.3,20.3 0 0 0 1001.34,245.07Z" fill="none" stroke="#1a282c" stroke-width="1.1" stroke-linejoin="round"/>
<path d="M1006.85,258.49A34.8,34.8 0 0 1 989.18,261.32L989.82,255.05A28.5,28.5 0 0 0 1004.29,252.74Z" fill="none" stroke="#1a282c" stroke-width="1.1" stroke-linejoin="round"/>
<path d="M989.23,254.99A28.5,28.5 0 0 1 975.35,249.31L980.34,242.81A20.3,20.3 0 0 0 990.23,246.85Z" fill="none" stroke="#1a282c" stroke-width="1.1" stroke-linejoin="round"/>
<path d="M975.35,249.31A28.5,28.5 0 0 1 966.18,237.15L973.81,234.14A20.3,20.3 0 0 0 980.34,242.81Z" fill="none" stroke="#1a282c" stroke-width="1.1" stroke-linejoin="round"/>
<path d="M966.18,237.15A28.5,28.5 0 0 1 964.40,223.33L972.54,224.30A20.3,20.3 0 0 0 973.81,234.14Z" fill="none" stroke="#1a282c" stroke-width="1.1" stroke-linejoin="round"/>
<path d="M964.40,223.33A28.5,28.5 0 0 1 971.86,207.26L977.85,212.86A20.3,20.3 0 0 0 972.54,224.30Z" fill="none" stroke="#1a282c" stroke-width="1.1" stroke-linejoin="round"/>
<path d="M958.24,221.86A34.8,34.8 0 0 1 966.76,203.50L971.45,207.70A28.5,28.5 0 0 0 964.48,222.73Z" fill="none" stroke="#1a282c" stroke-width="1.1" stroke-linejoin="round"/>
<circle cx="757.4" cy="281.4" r="17.3" fill="#fff" stroke="#1a282c" stroke-width="1"/>
<path d="M757.40,256.60A24.8,24.8 0 0 1 765.47,257.95L763.03,265.04A17.3,17.3 0 0 0 757.40,264.10Z" fill="#6db33f"/>
<path d="M765.47,257.95A24.8,24.8 0 0 1 772.67,261.86L768.05,267.77A17.3,17.3 0 0 0 763.03,265.04Z" fill="#6db33f"/>
<path d="M772.67,261.86A24.8,24.8 0 0 1 778.20,267.89L771.91,271.98A17.3,17.3 0 0 0 768.05,267.77Z" fill="#29a8e0"/>
<path d="M778.20,267.89A24.8,24.8 0 0 1 781.56,275.82L774.26,277.51A17.3,17.3 0 0 0 771.91,271.98Z" fill="#29a8e0"/>
<path d="M783.58,265.17A30.8,30.8 0 0 1 787.26,273.84L781.44,275.32A24.8,24.8 0 0 0 778.48,268.33Z" fill="#6db33f"/>
<path d="M781.56,275.82A24.8,24.8 0 0 1 782.06,283.99L774.61,283.21A17.3,17.3 0 0 0 774.26,277.51Z" fill="#e3202a"/>
<path d="M782.06,283.99A24.8,24.8 0 0 1 779.88,291.88L773.08,288.71A17.3,17.3 0 0 0 774.61,283.21Z" fill="#6db33f"/>
<path d="M779.88,291.88A24.8,24.8 0 0 1 775.24,298.63L769.84,293.42A17.3,17.3 0 0 0 773.08,288.71Z" fill="#6db33f"/>
<path d="M775.24,298.63A24.8,24.8 0 0 1 767.88,303.88L764.71,297.08A17.3,17.3 0 0 0 769.84,293.42Z" fill="#6db33f"/>
<path d="M767.88,303.88A24.8,24.8 0 0 1 760.42,306.02L759.51,298.57A17.3,17.3 0 0 0 764.71,297.08Z" fill="#6db33f"/>
<path d="M760.42,306.02A24.8,24.8 0 0 1 735.71,293.42L742.27,289.79A17.3,17.3 0 0 0 759.51,298.57Z" fill="#6db33f"/>
<path d="M735.71,293.42A24.8,24.8 0 0 1 732.98,285.71L740.36,284.40A17.3,17.3 0 0 0 742.27,289.79Z" fill="#6db33f"/>
<path d="M732.98,285.71A24.8,24.8 0 0 1 732.91,277.52L740.31,278.69A17.3,17.3 0 0 0 740.36,284.40Z" fill="#6db33f"/>
<path d="M732.91,277.52A24.8,24.8 0 0 1 735.50,269.76L742.13,273.28A17.3,17.3 0 0 0 740.31,278.69Z" fill="#e3202a"/>
<path d="M735.50,269.76A24.8,24.8 0 0 1 740.65,263.12L745.71,268.65A17.3,17.3 0 0 0 742.13,273.28Z" fill="#e3202a"/>
<path d="M730.51,266.37A30.8,30.8 0 0 1 736.12,259.13L740.27,263.47A24.8,24.8 0 0 0 735.75,269.30Z" fill="#e3202a"/>
<path d="M771.29,308.89A30.8,30.8 0 0 1 762.32,311.80L761.37,305.88A24.8,24.8 0 0 0 768.58,303.54Z" fill="#6db33f"/>
<path d="M759.98,312.09A30.8,30.8 0 0 1 753.22,311.92L754.03,305.97A24.8,24.8 0 0 0 759.48,306.11Z" fill="#6db33f"/>
<path d="M750.89,311.50A30.8,30.8 0 0 1 731.93,298.71L736.89,295.34A24.8,24.8 0 0 0 752.16,305.64Z" fill="#6db33f"/>
<path d="M750.05,315.41A34.8,34.8 0 0 1 740.11,311.60L742.09,308.13A30.8,30.8 0 0 0 750.89,311.50Z" fill="#e3202a"/>
<path d="M738.86,310.85A34.8,34.8 0 0 1 730.05,302.92L733.20,300.45A30.8,30.8 0 0 0 740.99,307.46Z" fill="#e3202a"/>
<path d="M749.73,320.15A39.5,39.5 0 0 1 738.98,316.34L741.17,312.18A34.8,34.8 0 0 0 750.64,315.54Z" fill="#6db33f"/>
<path d="M757.40,256.60A24.8,24.8 0 0 1 765.47,257.95L763.03,265.04A17.3,17.3 0 0 0 757.40,264.10Z" fill="none" stroke="#1a282c" stroke-width="1.1" stroke-linejoin="round"/>
<path d="M765.47,257.95A24.8,24.8 0 0 1 772.67,261.86L768.05,267.77A17.3,17.3 0 0 0 763.03,265.04Z" fill="none" stroke="#1a282c" stroke-width="1.1" stroke-linejoin="round"/>
<path d="M772.67,261.86A24.8,24.8 0 0 1 778.20,267.89L771.91,271.98A17.3,17.3 0 0 0 768.05,267.77Z" fill="none" stroke="#1a282c" stroke-width="1.1" stroke-linejoin="round"/>
<path d="M778.20,267.89A24.8,24.8 0 0 1 781.56,275.82L774.26,277.51A17.3,17.3 0 0 0 771.91,271.98Z" fill="none" stroke="#1a282c" stroke-width="1.1" stroke-linejoin="round"/>
<path d="M783.58,265.17A30.8,30.8 0 0 1 787.26,273.84L781.44,275.32A24.8,24.8 0 0 0 778.48,268.33Z" fill="none" stroke="#1a282c" stroke-width="1.1" stroke-linejoin="round"/>
<path d="M781.56,275.82A24.8,24.8 0 0 1 782.06,283.99L774.61,283.21A17.3,17.3 0 0 0 774.26,277.51Z" fill="none" stroke="#1a282c" stroke-width="1.1" stroke-linejoin="round"/>
<path d="M782.06,283.99A24.8,24.8 0 0 1 779.88,291.88L773.08,288.71A17.3,17.3 0 0 0 774.61,283.21Z" fill="none" stroke="#1a282c" stroke-width="1.1" stroke-linejoin="round"/>
<path d="M779.88,291.88A24.8,24.8 0 0 1 775.24,298.63L769.84,293.42A17.3,17.3 0 0 0 773.08,288.71Z" fill="none" stroke="#1a282c" stroke-width="1.1" stroke-linejoin="round"/>
<path d="M775.24,298.63A24.8,24.8 0 0 1 767.88,303.88L764.71,297.08A17.3,17.3 0 0 0 769.84,293.42Z" fill="none" stroke="#1a282c" stroke-width="1.1" stroke-linejoin="round"/>
<path d="M767.88,303.88A24.8,24.8 0 0 1 760.42,306.02L759.51,298.57A17.3,17.3 0 0 0 764.71,297.08Z" fill="none" stroke="#1a282c" stroke-width="1.1" stroke-linejoin="round"/>
<path d="M760.42,306.02A24.8,24.8 0 0 1 735.71,293.42L742.27,289.79A17.3,17.3 0 0 0 759.51,298.57Z" fill="none" stroke="#1a282c" stroke-width="1.1" stroke-linejoin="round"/>
<path d="M735.71,293.42A24.8,24.8 0 0 1 732.98,285.71L740.36,284.40A17.3,17.3 0 0 0 742.27,289.79Z" fill="none" stroke="#1a282c" stroke-width="1.1" stroke-linejoin="round"/>
<path d="M732.98,285.71A24.8,24.8 0 0 1 732.91,277.52L740.31,278.69A17.3,17.3 0 0 0 740.36,284.40Z" fill="none" stroke="#1a282c" stroke-width="1.1" stroke-linejoin="round"/>
<path d="M732.91,277.52A24.8,24.8 0 0 1 735.50,269.76L742.13,273.28A17.3,17.3 0 0 0 740.31,278.69Z" fill="none" stroke="#1a282c" stroke-width="1.1" stroke-linejoin="round"/>
<path d="M735.50,269.76A24.8,24.8 0 0 1 740.65,263.12L745.71,268.65A17.3,17.3 0 0 0 742.13,273.28Z" fill="none" stroke="#1a282c" stroke-width="1.1" stroke-linejoin="round"/>
<path d="M730.51,266.37A30.8,30.8 0 0 1 736.12,259.13L740.27,263.47A24.8,24.8 0 0 0 735.75,269.30Z" fill="none" stroke="#1a282c" stroke-width="1.1" stroke-linejoin="round"/>
<path d="M771.29,308.89A30.8,30.8 0 0 1 762.32,311.80L761.37,305.88A24.8,24.8 0 0 0 768.58,303.54Z" fill="none" stroke="#1a282c" stroke-width="1.1" stroke-linejoin="round"/>
<path d="M759.98,312.09A30.8,30.8 0 0 1 753.22,311.92L754.03,305.97A24.8,24.8 0 0 0 759.48,306.11Z" fill="none" stroke="#1a282c" stroke-width="1.1" stroke-linejoin="round"/>
<path d="M750.89,311.50A30.8,30.8 0 0 1 731.93,298.71L736.89,295.34A24.8,24.8 0 0 0 752.16,305.64Z" fill="none" stroke="#1a282c" stroke-width="1.1" stroke-linejoin="round"/>
<path d="M750.05,315.41A34.8,34.8 0 0 1 740.11,311.60L742.09,308.13A30.8,30.8 0 0 0 750.89,311.50Z" fill="none" stroke="#1a282c" stroke-width="1.1" stroke-linejoin="round"/>
<path d="M738.86,310.85A34.8,34.8 0 0 1 730.05,302.92L733.20,300.45A30.8,30.8 0 0 0 740.99,307.46Z" fill="none" stroke="#1a282c" stroke-width="1.1" stroke-linejoin="round"/>
<path d="M749.73,320.15A39.5,39.5 0 0 1 738.98,316.34L741.17,312.18A34.8,34.8 0 0 0 750.64,315.54Z" fill="none" stroke="#1a282c" stroke-width="1.1" stroke-linejoin="round"/>
<circle cx="914" cy="368.6" r="17" fill="#fff" stroke="#1a282c" stroke-width="1"/>
<path d="M914.00,344.00A24.6,24.6 0 0 1 935.41,356.49L928.80,360.23A17,17 0 0 0 914.00,351.60Z" fill="#6db33f"/>
<path d="M935.41,356.49A24.6,24.6 0 0 1 905.59,391.72L908.19,384.57A17,17 0 0 0 928.80,360.23Z" fill="#6db33f"/>
<path d="M905.59,391.72A24.6,24.6 0 0 1 889.77,372.87L897.26,371.55A17,17 0 0 0 908.19,384.57Z" fill="#6db33f"/>
<path d="M889.77,372.87A24.6,24.6 0 0 1 898.52,349.48L903.30,355.39A17,17 0 0 0 897.26,371.55Z" fill="#6db33f"/>
<path d="M940.33,354.42A29.9,29.9 0 0 1 939.68,383.91L935.13,381.20A24.6,24.6 0 0 0 935.66,356.94Z" fill="#29a8e0"/>
<path d="M939.02,384.97A29.9,29.9 0 0 1 914.10,398.50L914.09,393.20A24.6,24.6 0 0 0 934.58,382.07Z" fill="#6db33f"/>
<path d="M914.00,344.00A24.6,24.6 0 0 1 935.41,356.49L928.80,360.23A17,17 0 0 0 914.00,351.60Z" fill="none" stroke="#1a282c" stroke-width="1.1" stroke-linejoin="round"/>
<path d="M935.41,356.49A24.6,24.6 0 0 1 905.59,391.72L908.19,384.57A17,17 0 0 0 928.80,360.23Z" fill="none" stroke="#1a282c" stroke-width="1.1" stroke-linejoin="round"/>
<path d="M905.59,391.72A24.6,24.6 0 0 1 889.77,372.87L897.26,371.55A17,17 0 0 0 908.19,384.57Z" fill="none" stroke="#1a282c" stroke-width="1.1" stroke-linejoin="round"/>
<path d="M889.77,372.87A24.6,24.6 0 0 1 898.52,349.48L903.30,355.39A17,17 0 0 0 897.26,371.55Z" fill="none" stroke="#1a282c" stroke-width="1.1" stroke-linejoin="round"/>
<path d="M940.33,354.42A29.9,29.9 0 0 1 939.68,383.91L935.13,381.20A24.6,24.6 0 0 0 935.66,356.94Z" fill="none" stroke="#1a282c" stroke-width="1.1" stroke-linejoin="round"/>
<path d="M939.02,384.97A29.9,29.9 0 0 1 914.10,398.50L914.09,393.20A24.6,24.6 0 0 0 934.58,382.07Z" fill="none" stroke="#1a282c" stroke-width="1.1" stroke-linejoin="round"/>
<circle cx="119.1" cy="426.4" r="19.5" fill="#fff" stroke="#1a282c" stroke-width="1"/>
<path d="M119.10,398.80A27.6,27.6 0 0 1 133.60,402.92L129.35,409.81A19.5,19.5 0 0 0 119.10,406.90Z" fill="#6db33f"/>
<path d="M133.60,402.92A27.6,27.6 0 0 1 145.45,418.19L137.72,420.60A19.5,19.5 0 0 0 129.35,409.81Z" fill="#6db33f"/>
<path d="M145.45,418.19A27.6,27.6 0 0 1 145.20,435.39L137.54,432.75A19.5,19.5 0 0 0 137.72,420.60Z" fill="#e3202a"/>
<path d="M145.20,435.39A27.6,27.6 0 0 1 135.71,448.44L130.84,441.97A19.5,19.5 0 0 0 137.54,432.75Z" fill="#6db33f"/>
<path d="M135.71,448.44A27.6,27.6 0 0 1 121.51,453.89L120.80,445.83A19.5,19.5 0 0 0 130.84,441.97Z" fill="#29a8e0"/>
<path d="M121.51,453.89A27.6,27.6 0 0 1 105.72,450.54L109.65,443.46A19.5,19.5 0 0 0 120.80,445.83Z" fill="#6db33f"/>
<path d="M105.72,450.54A27.6,27.6 0 0 1 94.09,438.06L101.43,434.64A19.5,19.5 0 0 0 109.65,443.46Z" fill="#e3202a"/>
<path d="M101.90,455.96A34.2,34.2 0 0 1 88.41,441.50L94.34,438.59A27.6,27.6 0 0 0 105.22,450.25Z" fill="#6db33f"/>
<path d="M94.09,438.06A27.6,27.6 0 0 1 91.77,422.56L99.79,423.69A19.5,19.5 0 0 0 101.43,434.64Z" fill="#e3202a"/>
<path d="M91.77,422.56A27.6,27.6 0 0 1 98.27,408.29L104.38,413.61A19.5,19.5 0 0 0 99.79,423.69Z" fill="#e3202a"/>
<path d="M138.32,398.11A34.2,34.2 0 0 1 150.53,412.93L144.47,415.53A27.6,27.6 0 0 0 134.61,403.57Z" fill="#e3202a"/>
<path d="M151.66,415.95A34.2,34.2 0 0 1 152.17,435.14L145.78,433.45A27.6,27.6 0 0 0 145.38,417.96Z" fill="#e3202a"/>
<path d="M119.10,398.80A27.6,27.6 0 0 1 133.60,402.92L129.35,409.81A19.5,19.5 0 0 0 119.10,406.90Z" fill="none" stroke="#1a282c" stroke-width="1.1" stroke-linejoin="round"/>
<path d="M133.60,402.92A27.6,27.6 0 0 1 145.45,418.19L137.72,420.60A19.5,19.5 0 0 0 129.35,409.81Z" fill="none" stroke="#1a282c" stroke-width="1.1" stroke-linejoin="round"/>
<path d="M145.45,418.19A27.6,27.6 0 0 1 145.20,435.39L137.54,432.75A19.5,19.5 0 0 0 137.72,420.60Z" fill="none" stroke="#1a282c" stroke-width="1.1" stroke-linejoin="round"/>
<path d="M145.20,435.39A27.6,27.6 0 0 1 135.71,448.44L130.84,441.97A19.5,19.5 0 0 0 137.54,432.75Z" fill="none" stroke="#1a282c" stroke-width="1.1" stroke-linejoin="round"/>
<path d="M135.71,448.44A27.6,27.6 0 0 1 121.51,453.89L120.80,445.83A19.5,19.5 0 0 0 130.84,441.97Z" fill="none" stroke="#1a282c" stroke-width="1.1" stroke-linejoin="round"/>
<path d="M121.51,453.89A27.6,27.6 0 0 1 105.72,450.54L109.65,443.46A19.5,19.5 0 0 0 120.80,445.83Z" fill="none" stroke="#1a282c" stroke-width="1.1" stroke-linejoin="round"/>
<path d="M105.72,450.54A27.6,27.6 0 0 1 94.09,438.06L101.43,434.64A19.5,19.5 0 0 0 109.65,443.46Z" fill="none" stroke="#1a282c" stroke-width="1.1" stroke-linejoin="round"/>
<path d="M101.90,455.96A34.2,34.2 0 0 1 88.41,441.50L94.34,438.59A27.6,27.6 0 0 0 105.22,450.25Z" fill="none" stroke="#1a282c" stroke-width="1.1" stroke-linejoin="round"/>
<path d="M94.09,438.06A27.6,27.6 0 0 1 91.77,422.56L99.79,423.69A19.5,19.5 0 0 0 101.43,434.64Z" fill="none" stroke="#1a282c" stroke-width="1.1" stroke-linejoin="round"/>
<path d="M91.77,422.56A27.6,27.6 0 0 1 98.27,408.29L104.38,413.61A19.5,19.5 0 0 0 99.79,423.69Z" fill="none" stroke="#1a282c" stroke-width="1.1" stroke-linejoin="round"/>
<path d="M138.32,398.11A34.2,34.2 0 0 1 150.53,412.93L144.47,415.53A27.6,27.6 0 0 0 134.61,403.57Z" fill="none" stroke="#1a282c" stroke-width="1.1" stroke-linejoin="round"/>
<path d="M151.66,415.95A34.2,34.2 0 0 1 152.17,435.14L145.78,433.45A27.6,27.6 0 0 0 145.38,417.96Z" fill="none" stroke="#1a282c" stroke-width="1.1" stroke-linejoin="round"/>
<circle cx="558.9" cy="495.5" r="22.5" fill="#fff" stroke="#1a282c" stroke-width="1"/>
<path d="M558.90,463.00A32.5,32.5 0 0 1 567.86,464.26L565.10,473.87A22.5,22.5 0 0 0 558.90,473.00Z" fill="#6db33f"/>
<path d="M567.86,464.26A32.5,32.5 0 0 1 577.03,468.52L571.45,476.82A22.5,22.5 0 0 0 565.10,473.87Z" fill="#6db33f"/>
<path d="M577.03,468.52A32.5,32.5 0 0 1 586.76,478.76L578.19,483.91A22.5,22.5 0 0 0 571.45,476.82Z" fill="#e3202a"/>
<path d="M581.90,462.77A40,40 0 0 1 592.75,474.18L586.40,478.18A32.5,32.5 0 0 0 577.59,468.91Z" fill="#e3202a"/>
<path d="M586.76,478.76A32.5,32.5 0 0 1 590.65,488.58L580.88,490.71A22.5,22.5 0 0 0 578.19,483.91Z" fill="#6db33f"/>
<path d="M590.65,488.58A32.5,32.5 0 0 1 591.39,496.41L581.39,496.13A22.5,22.5 0 0 0 580.88,490.71Z" fill="#29a8e0"/>
<path d="M591.39,496.41A32.5,32.5 0 0 1 583.43,516.82L575.88,510.26A22.5,22.5 0 0 0 581.39,496.13Z" fill="#29a8e0"/>
<path d="M583.43,516.82A32.5,32.5 0 0 1 576.79,522.63L571.29,514.28A22.5,22.5 0 0 0 575.88,510.26Z" fill="#e3202a"/>
<path d="M576.79,522.63A32.5,32.5 0 0 1 565.66,527.29L563.58,517.51A22.5,22.5 0 0 0 571.29,514.28Z" fill="#6db33f"/>
<path d="M565.66,527.29A32.5,32.5 0 0 1 554.94,527.76L556.16,517.83A22.5,22.5 0 0 0 563.58,517.51Z" fill="#6db33f"/>
<path d="M566.40,534.79A40,40 0 0 1 554.86,535.30L555.62,527.83A32.5,32.5 0 0 0 564.99,527.42Z" fill="#e3202a"/>
<path d="M554.94,527.76A32.5,32.5 0 0 1 545.68,525.19L549.75,516.05A22.5,22.5 0 0 0 556.16,517.83Z" fill="#6db33f"/>
<path d="M545.68,525.19A32.5,32.5 0 0 1 537.15,519.65L543.84,512.22A22.5,22.5 0 0 0 549.75,516.05Z" fill="#6db33f"/>
<path d="M537.15,519.65A32.5,32.5 0 0 1 530.47,511.26L539.22,506.41A22.5,22.5 0 0 0 543.84,512.22Z" fill="#6db33f"/>
<path d="M530.47,511.26A32.5,32.5 0 0 1 526.72,500.02L536.62,498.63A22.5,22.5 0 0 0 539.22,506.41Z" fill="#6db33f"/>
<path d="M523.52,514.16A40,40 0 0 1 519.41,501.90L526.82,500.70A32.5,32.5 0 0 0 530.15,510.66Z" fill="#6db33f"/>
<path d="M526.72,500.02A32.5,32.5 0 0 1 526.77,490.64L536.65,492.14A22.5,22.5 0 0 0 536.62,498.63Z" fill="#6db33f"/>
<path d="M526.77,490.64A32.5,32.5 0 0 1 529.69,481.25L538.68,485.64A22.5,22.5 0 0 0 536.65,492.14Z" fill="#6db33f"/>
<path d="M529.69,481.25A32.5,32.5 0 0 1 537.58,470.97L544.14,478.52A22.5,22.5 0 0 0 538.68,485.64Z" fill="#6db33f"/>
<path d="M598.85,497.45A40,40 0 0 1 596.54,509.05L589.48,506.51A32.5,32.5 0 0 0 591.36,497.09Z" fill="#e3202a"/>
<path d="M595.93,510.61A40,40 0 0 1 589.63,521.10L583.87,516.30A32.5,32.5 0 0 0 588.99,507.78Z" fill="#29a8e0"/>
<path d="M558.90,463.00A32.5,32.5 0 0 1 567.86,464.26L565.10,473.87A22.5,22.5 0 0 0 558.90,473.00Z" fill="none" stroke="#1a282c" stroke-width="1.1" stroke-linejoin="round"/>
<path d="M567.86,464.26A32.5,32.5 0 0 1 577.03,468.52L571.45,476.82A22.5,22.5 0 0 0 565.10,473.87Z" fill="none" stroke="#1a282c" stroke-width="1.1" stroke-linejoin="round"/>
<path d="M577.03,468.52A32.5,32.5 0 0 1 586.76,478.76L578.19,483.91A22.5,22.5 0 0 0 571.45,476.82Z" fill="none" stroke="#1a282c" stroke-width="1.1" stroke-linejoin="round"/>
<path d="M581.90,462.77A40,40 0 0 1 592.75,474.18L586.40,478.18A32.5,32.5 0 0 0 577.59,468.91Z" fill="none" stroke="#1a282c" stroke-width="1.1" stroke-linejoin="round"/>
<path d="M586.76,478.76A32.5,32.5 0 0 1 590.65,488.58L580.88,490.71A22.5,22.5 0 0 0 578.19,483.91Z" fill="none" stroke="#1a282c" stroke-width="1.1" stroke-linejoin="round"/>
<path d="M590.65,488.58A32.5,32.5 0 0 1 591.39,496.41L581.39,496.13A22.5,22.5 0 0 0 580.88,490.71Z" fill="none" stroke="#1a282c" stroke-width="1.1" stroke-linejoin="round"/>
<path d="M591.39,496.41A32.5,32.5 0 0 1 583.43,516.82L575.88,510.26A22.5,22.5 0 0 0 581.39,496.13Z" fill="none" stroke="#1a282c" stroke-width="1.1" stroke-linejoin="round"/>
<path d="M583.43,516.82A32.5,32.5 0 0 1 576.79,522.63L571.29,514.28A22.5,22.5 0 0 0 575.88,510.26Z" fill="none" stroke="#1a282c" stroke-width="1.1" stroke-linejoin="round"/>
<path d="M576.79,522.63A32.5,32.5 0 0 1 565.66,527.29L563.58,517.51A22.5,22.5 0 0 0 571.29,514.28Z" fill="none" stroke="#1a282c" stroke-width="1.1" stroke-linejoin="round"/>
<path d="M565.66,527.29A32.5,32.5 0 0 1 554.94,527.76L556.16,517.83A22.5,22.5 0 0 0 563.58,517.51Z" fill="none" stroke="#1a282c" stroke-width="1.1" stroke-linejoin="round"/>
<path d="M566.40,534.79A40,40 0 0 1 554.86,535.30L555.62,527.83A32.5,32.5 0 0 0 564.99,527.42Z" fill="none" stroke="#1a282c" stroke-width="1.1" stroke-linejoin="round"/>
<path d="M554.94,527.76A32.5,32.5 0 0 1 545.68,525.19L549.75,516.05A22.5,22.5 0 0 0 556.16,517.83Z" fill="none" stroke="#1a282c" stroke-width="1.1" stroke-linejoin="round"/>
<path d="M545.68,525.19A32.5,32.5 0 0 1 537.15,519.65L543.84,512.22A22.5,22.5 0 0 0 549.75,516.05Z" fill="none" stroke="#1a282c" stroke-width="1.1" stroke-linejoin="round"/>
<path d="M537.15,519.65A32.5,32.5 0 0 1 530.47,511.26L539.22,506.41A22.5,22.5 0 0 0 543.84,512.22Z" fill="none" stroke="#1a282c" stroke-width="1.1" stroke-linejoin="round"/>
<path d="M530.47,511.26A32.5,32.5 0 0 1 526.72,500.02L536.62,498.63A22.5,22.5 0 0 0 539.22,506.41Z" fill="none" stroke="#1a282c" stroke-width="1.1" stroke-linejoin="round"/>
<path d="M523.52,514.16A40,40 0 0 1 519.41,501.90L526.82,500.70A32.5,32.5 0 0 0 530.15,510.66Z" fill="none" stroke="#1a282c" stroke-width="1.1" stroke-linejoin="round"/>
<path d="M526.72,500.02A32.5,32.5 0 0 1 526.77,490.64L536.65,492.14A22.5,22.5 0 0 0 536.62,498.63Z" fill="none" stroke="#1a282c" stroke-width="1.1" stroke-linejoin="round"/>
<path d="M526.77,490.64A32.5,32.5 0 0 1 529.69,481.25L538.68,485.64A22.5,22.5 0 0 0 536.65,492.14Z" fill="none" stroke="#1a282c" stroke-width="1.1" stroke-linejoin="round"/>
<path d="M529.69,481.25A32.5,32.5 0 0 1 537.58,470.97L544.14,478.52A22.5,22.5 0 0 0 538.68,485.64Z" fill="none" stroke="#1a282c" stroke-width="1.1" stroke-linejoin="round"/>
<path d="M598.85,497.45A40,40 0 0 1 596.54,509.05L589.48,506.51A32.5,32.5 0 0 0 591.36,497.09Z" fill="none" stroke="#1a282c" stroke-width="1.1" stroke-linejoin="round"/>
<path d="M595.93,510.61A40,40 0 0 1 589.63,521.10L583.87,516.30A32.5,32.5 0 0 0 588.99,507.78Z" fill="none" stroke="#1a282c" stroke-width="1.1" stroke-linejoin="round"/>
<circle cx="247.1" cy="535.2" r="20.1" fill="#fff" stroke="#1a282c" stroke-width="1"/>
<path d="M247.10,506.20A29,29 0 0 1 261.82,510.21L257.30,517.88A20.1,20.1 0 0 0 247.10,515.10Z" fill="#6db33f"/>
<path d="M261.82,510.21A29,29 0 0 1 272.56,521.32L264.75,525.58A20.1,20.1 0 0 0 257.30,517.88Z" fill="#29a8e0"/>
<path d="M272.56,521.32A29,29 0 0 1 276.08,536.21L267.19,535.90A20.1,20.1 0 0 0 264.75,525.58Z" fill="#e3202a"/>
<path d="M276.08,536.21A29,29 0 0 1 271.42,550.99L263.96,546.15A20.1,20.1 0 0 0 267.19,535.90Z" fill="#29a8e0"/>
<path d="M271.42,550.99A29,29 0 0 1 242.06,563.76L243.61,554.99A20.1,20.1 0 0 0 263.96,546.15Z" fill="#6db33f"/>
<path d="M242.06,563.76A29,29 0 0 1 228.07,557.09L233.91,550.37A20.1,20.1 0 0 0 243.61,554.99Z" fill="#29a8e0"/>
<path d="M228.07,557.09A29,29 0 0 1 219.52,544.16L227.98,541.41A20.1,20.1 0 0 0 233.91,550.37Z" fill="#e3202a"/>
<path d="M219.52,544.16A29,29 0 0 1 218.59,529.92L227.34,531.54A20.1,20.1 0 0 0 227.98,541.41Z" fill="#6db33f"/>
<path d="M218.59,529.92A29,29 0 0 1 226.42,514.87L232.76,521.11A20.1,20.1 0 0 0 227.34,531.54Z" fill="#6db33f"/>
<path d="M211.85,527.90A36,36 0 0 1 220.90,510.51L225.99,515.31A29,29 0 0 0 218.70,529.32Z" fill="#e3202a"/>
<path d="M276.87,555.44A36,36 0 0 1 264.66,566.63L261.25,560.51A29,29 0 0 0 271.09,551.50Z" fill="#6db33f"/>
<path d="M262.20,567.88A36,36 0 0 1 246.60,571.20L246.70,564.20A29,29 0 0 0 259.26,561.53Z" fill="#29a8e0"/>
<path d="M247.10,506.20A29,29 0 0 1 261.82,510.21L257.30,517.88A20.1,20.1 0 0 0 247.10,515.10Z" fill="none" stroke="#1a282c" stroke-width="1.1" stroke-linejoin="round"/>
<path d="M261.82,510.21A29,29 0 0 1 272.56,521.32L264.75,525.58A20.1,20.1 0 0 0 257.30,517.88Z" fill="none" stroke="#1a282c" stroke-width="1.1" stroke-linejoin="round"/>
<path d="M272.56,521.32A29,29 0 0 1 276.08,536.21L267.19,535.90A20.1,20.1 0 0 0 264.75,525.58Z" fill="none" stroke="#1a282c" stroke-width="1.1" stroke-linejoin="round"/>
<path d="M276.08,536.21A29,29 0 0 1 271.42,550.99L263.96,546.15A20.1,20.1 0 0 0 267.19,535.90Z" fill="none" stroke="#1a282c" stroke-width="1.1" stroke-linejoin="round"/>
<path d="M271.42,550.99A29,29 0 0 1 242.06,563.76L243.61,554.99A20.1,20.1 0 0 0 263.96,546.15Z" fill="none" stroke="#1a282c" stroke-width="1.1" stroke-linejoin="round"/>
<path d="M242.06,563.76A29,29 0 0 1 228.07,557.09L233.91,550.37A20.1,20.1 0 0 0 243.61,554.99Z" fill="none" stroke="#1a282c" stroke-width="1.1" stroke-linejoin="round"/>
<path d="M228.07,557.09A29,29 0 0 1 219.52,544.16L227.98,541.41A20.1,20.1 0 0 0 233.91,550.37Z" fill="none" stroke="#1a282c" stroke-width="1.1" stroke-linejoin="round"/>
<path d="M219.52,544.16A29,29 0 0 1 218.59,529.92L227.34,531.54A20.1,20.1 0 0 0 227.98,541.41Z" fill="none" stroke="#1a282c" stroke-width="1.1" stroke-linejoin="round"/>
<path d="M218.59,529.92A29,29 0 0 1 226.42,514.87L232.76,521.11A20.1,20.1 0 0 0 227.34,531.54Z" fill="none" stroke="#1a282c" stroke-width="1.1" stroke-linejoin="round"/>
<path d="M211.85,527.90A36,36 0 0 1 220.90,510.51L225.99,515.31A29,29 0 0 0 218.70,529.32Z" fill="none" stroke="#1a282c" stroke-width="1.1" stroke-linejoin="round"/>
<path d="M276.87,555.44A36,36 0 0 1 264.66,566.63L261.25,560.51A29,29 0 0 0 271.09,551.50Z" fill="none" stroke="#1a282c" stroke-width="1.1" stroke-linejoin="round"/>
<path d="M262.20,567.88A36,36 0 0 1 246.60,571.20L246.70,564.20A29,29 0 0 0 259.26,561.53Z" fill="none" stroke="#1a282c" stroke-width="1.1" stroke-linejoin="round"/>
<circle cx="868" cy="514.4" r="18.8" fill="#fff" stroke="#1a282c" stroke-width="1"/>
<path d="M868.00,487.40A27,27 0 0 1 880.13,490.28L876.45,497.60A18.8,18.8 0 0 0 868.00,495.60Z" fill="#e3202a"/>
<path d="M880.13,490.28A27,27 0 0 1 890.33,499.22L883.55,503.83A18.8,18.8 0 0 0 876.45,497.60Z" fill="#6db33f"/>
<path d="M890.33,499.22A27,27 0 0 1 894.91,512.23L886.74,512.89A18.8,18.8 0 0 0 883.55,503.83Z" fill="#6db33f"/>
<path d="M894.91,512.23A27,27 0 0 1 893.03,524.51L885.43,521.44A18.8,18.8 0 0 0 886.74,512.89Z" fill="#6db33f"/>
<path d="M893.03,524.51A27,27 0 0 1 885.36,535.08L880.08,528.80A18.8,18.8 0 0 0 885.43,521.44Z" fill="#6db33f"/>
<path d="M885.36,535.08A27,27 0 0 1 873.61,540.81L871.91,532.79A18.8,18.8 0 0 0 880.08,528.80Z" fill="#e3202a"/>
<path d="M873.61,540.81A27,27 0 0 1 861.29,540.55L863.32,532.61A18.8,18.8 0 0 0 871.91,532.79Z" fill="#6db33f"/>
<path d="M861.29,540.55A27,27 0 0 1 849.76,534.31L855.30,528.26A18.8,18.8 0 0 0 863.32,532.61Z" fill="#6db33f"/>
<path d="M849.76,534.31A27,27 0 0 1 842.56,523.46L850.29,520.71A18.8,18.8 0 0 0 855.30,528.26Z" fill="#e3202a"/>
<path d="M842.56,523.46A27,27 0 0 1 841.30,510.41L849.41,511.62A18.8,18.8 0 0 0 850.29,520.71Z" fill="#6db33f"/>
<path d="M841.30,510.41A27,27 0 0 1 848.13,496.12L854.16,501.67A18.8,18.8 0 0 0 849.41,511.62Z" fill="#6db33f"/>
<path d="M835.27,508.81A33.2,33.2 0 0 1 843.10,492.44L847.75,496.54A27,27 0 0 0 841.39,509.85Z" fill="#6db33f"/>
<path d="M868.00,487.40A27,27 0 0 1 880.13,490.28L876.45,497.60A18.8,18.8 0 0 0 868.00,495.60Z" fill="none" stroke="#1a282c" stroke-width="1.1" stroke-linejoin="round"/>
<path d="M880.13,490.28A27,27 0 0 1 890.33,499.22L883.55,503.83A18.8,18.8 0 0 0 876.45,497.60Z" fill="none" stroke="#1a282c" stroke-width="1.1" stroke-linejoin="round"/>
<path d="M890.33,499.22A27,27 0 0 1 894.91,512.23L886.74,512.89A18.8,18.8 0 0 0 883.55,503.83Z" fill="none" stroke="#1a282c" stroke-width="1.1" stroke-linejoin="round"/>
<path d="M894.91,512.23A27,27 0 0 1 893.03,524.51L885.43,521.44A18.8,18.8 0 0 0 886.74,512.89Z" fill="none" stroke="#1a282c" stroke-width="1.1" stroke-linejoin="round"/>
<path d="M893.03,524.51A27,27 0 0 1 885.36,535.08L880.08,528.80A18.8,18.8 0 0 0 885.43,521.44Z" fill="none" stroke="#1a282c" stroke-width="1.1" stroke-linejoin="round"/>
<path d="M885.36,535.08A27,27 0 0 1 873.61,540.81L871.91,532.79A18.8,18.8 0 0 0 880.08,528.80Z" fill="none" stroke="#1a282c" stroke-width="1.1" stroke-linejoin="round"/>
<path d="M873.61,540.81A27,27 0 0 1 861.29,540.55L863.32,532.61A18.8,18.8 0 0 0 871.91,532.79Z" fill="none" stroke="#1a282c" stroke-width="1.1" stroke-linejoin="round"/>
<path d="M861.29,540.55A27,27 0 0 1 849.76,534.31L855.30,528.26A18.8,18.8 0 0 0 863.32,532.61Z" fill="none" stroke="#1a282c" stroke-width="1.1" stroke-linejoin="round"/>
<path d="M849.76,534.31A27,27 0 0 1 842.56,523.46L850.29,520.71A18.8,18.8 0 0 0 855.30,528.26Z" fill="none" stroke="#1a282c" stroke-width="1.1" stroke-linejoin="round"/>
<path d="M842.56,523.46A27,27 0 0 1 841.30,510.41L849.41,511.62A18.8,18.8 0 0 0 850.29,520.71Z" fill="none" stroke="#1a282c" stroke-width="1.1" stroke-linejoin="round"/>
<path d="M841.30,510.41A27,27 0 0 1 848.13,496.12L854.16,501.67A18.8,18.8 0 0 0 849.41,511.62Z" fill="none" stroke="#1a282c" stroke-width="1.1" stroke-linejoin="round"/>
<path d="M835.27,508.81A33.2,33.2 0 0 1 843.10,492.44L847.75,496.54A27,27 0 0 0 841.39,509.85Z" fill="none" stroke="#1a282c" stroke-width="1.1" stroke-linejoin="round"/>
<circle cx="578.3" cy="617.9" r="22.4" fill="#fff" stroke="#1a282c" stroke-width="1"/>
<path d="M578.30,586.30A31.6,31.6 0 0 1 584.06,586.83L582.38,595.88A22.4,22.4 0 0 0 578.30,595.50Z" fill="#6db33f"/>
<path d="M584.06,586.83A31.6,31.6 0 0 1 589.62,588.40L586.33,596.99A22.4,22.4 0 0 0 582.38,595.88Z" fill="#6db33f"/>
<path d="M589.62,588.40A31.6,31.6 0 0 1 594.81,590.96L590.00,598.80A22.4,22.4 0 0 0 586.33,596.99Z" fill="#29a8e0"/>
<path d="M594.81,590.96A31.6,31.6 0 0 1 599.44,594.42L593.29,601.25A22.4,22.4 0 0 0 590.00,598.80Z" fill="#6db33f"/>
<path d="M599.44,594.42A31.6,31.6 0 0 1 603.37,598.66L596.07,604.26A22.4,22.4 0 0 0 593.29,601.25Z" fill="#6db33f"/>
<path d="M603.37,598.66A31.6,31.6 0 0 1 606.46,603.55L598.26,607.73A22.4,22.4 0 0 0 596.07,604.26Z" fill="#29a8e0"/>
<path d="M606.46,603.55A31.6,31.6 0 0 1 608.60,608.93L599.78,611.54A22.4,22.4 0 0 0 598.26,607.73Z" fill="#6db33f"/>
<path d="M608.60,608.93A31.6,31.6 0 0 1 609.73,614.60L600.58,615.56A22.4,22.4 0 0 0 599.78,611.54Z" fill="#6db33f"/>
<path d="M609.73,614.60A31.6,31.6 0 0 1 609.80,620.38L600.63,619.66A22.4,22.4 0 0 0 600.58,615.56Z" fill="#6db33f"/>
<path d="M609.80,620.38A31.6,31.6 0 0 1 608.82,626.08L599.94,623.70A22.4,22.4 0 0 0 600.63,619.66Z" fill="#6db33f"/>
<path d="M616.51,621.71A38.4,38.4 0 0 1 615.59,627.06L608.99,625.44A31.6,31.6 0 0 0 609.74,621.04Z" fill="#29a8e0"/>
<path d="M622.78,622.34A44.7,44.7 0 0 1 621.71,628.56L615.59,627.06A38.4,38.4 0 0 0 616.51,621.71Z" fill="#e3202a"/>
<path d="M608.82,626.08A31.6,31.6 0 0 1 606.82,631.50L598.52,627.54A22.4,22.4 0 0 0 599.94,623.70Z" fill="#e3202a"/>
<path d="M606.82,631.50A31.6,31.6 0 0 1 603.86,636.47L596.42,631.07A22.4,22.4 0 0 0 598.52,627.54Z" fill="#e3202a"/>
<path d="M603.86,636.47A31.6,31.6 0 0 1 600.05,640.82L593.72,634.15A22.4,22.4 0 0 0 596.42,631.07Z" fill="#6db33f"/>
<path d="M600.05,640.82A31.6,31.6 0 0 1 595.51,644.40L590.50,636.69A22.4,22.4 0 0 0 593.72,634.15Z" fill="#6db33f"/>
<path d="M595.51,644.40A31.6,31.6 0 0 1 590.39,647.09L586.87,638.59A22.4,22.4 0 0 0 590.50,636.69Z" fill="#6db33f"/>
<path d="M590.39,647.09A31.6,31.6 0 0 1 584.87,648.81L582.96,639.81A22.4,22.4 0 0 0 586.87,638.59Z" fill="#6db33f"/>
<path d="M584.87,648.81A31.6,31.6 0 0 1 579.13,649.49L578.89,640.29A22.4,22.4 0 0 0 582.96,639.81Z" fill="#6db33f"/>
<path d="M579.13,649.49A31.6,31.6 0 0 1 573.36,649.11L574.80,640.02A22.4,22.4 0 0 0 578.89,640.29Z" fill="#6db33f"/>
<path d="M573.36,649.11A31.6,31.6 0 0 1 567.75,647.69L570.82,639.02A22.4,22.4 0 0 0 574.80,640.02Z" fill="#e3202a"/>
<path d="M571.50,655.69A38.4,38.4 0 0 1 566.24,654.36L568.38,647.90A31.6,31.6 0 0 0 572.70,649.00Z" fill="#29a8e0"/>
<path d="M567.75,647.69A31.6,31.6 0 0 1 562.50,645.27L567.10,637.30A22.4,22.4 0 0 0 570.82,639.02Z" fill="#6db33f"/>
<path d="M562.50,645.27A31.6,31.6 0 0 1 557.78,641.93L563.75,634.93A22.4,22.4 0 0 0 567.10,637.30Z" fill="#6db33f"/>
<path d="M558.41,650.75A38.4,38.4 0 0 1 553.98,647.62L558.29,642.35A31.6,31.6 0 0 0 561.93,644.93Z" fill="#29a8e0"/>
<path d="M555.14,656.13A44.7,44.7 0 0 1 549.99,652.49L553.98,647.62A38.4,38.4 0 0 0 558.41,650.75Z" fill="#e3202a"/>
<path d="M557.78,641.93A31.6,31.6 0 0 1 553.74,637.79L560.89,632.00A22.4,22.4 0 0 0 563.75,634.93Z" fill="#6db33f"/>
<path d="M553.74,637.79A31.6,31.6 0 0 1 550.53,632.98L558.61,628.59A22.4,22.4 0 0 0 560.89,632.00Z" fill="#6db33f"/>
<path d="M547.96,641.44A38.4,38.4 0 0 1 544.94,636.93L550.85,633.56A31.6,31.6 0 0 0 553.33,637.27Z" fill="#6db33f"/>
<path d="M550.53,632.98A31.6,31.6 0 0 1 548.25,627.66L557.00,624.82A22.4,22.4 0 0 0 558.61,628.59Z" fill="#6db33f"/>
<path d="M548.25,627.66A31.6,31.6 0 0 1 546.97,622.02L556.09,620.82A22.4,22.4 0 0 0 557.00,624.82Z" fill="#e3202a"/>
<path d="M546.97,622.02A31.6,31.6 0 0 1 546.74,616.25L555.93,616.73A22.4,22.4 0 0 0 556.09,620.82Z" fill="#6db33f"/>
<path d="M546.74,616.25A31.6,31.6 0 0 1 547.57,610.52L556.52,612.67A22.4,22.4 0 0 0 555.93,616.73Z" fill="#6db33f"/>
<path d="M547.57,610.52A31.6,31.6 0 0 1 549.43,605.05L557.84,608.79A22.4,22.4 0 0 0 556.52,612.67Z" fill="#e3202a"/>
<path d="M541.16,608.16A38.4,38.4 0 0 1 542.90,603.02L549.17,605.65A31.6,31.6 0 0 0 547.73,609.88Z" fill="#e3202a"/>
<path d="M549.43,605.05A31.6,31.6 0 0 1 552.26,600.00L559.84,605.21A22.4,22.4 0 0 0 557.84,608.79Z" fill="#e3202a"/>
<path d="M552.26,600.00A31.6,31.6 0 0 1 555.96,595.56L562.46,602.06A22.4,22.4 0 0 0 559.84,605.21Z" fill="#6db33f"/>
<path d="M578.30,586.30A31.6,31.6 0 0 1 584.06,586.83L582.38,595.88A22.4,22.4 0 0 0 578.30,595.50Z" fill="none" stroke="#1a282c" stroke-width="1.1" stroke-linejoin="round"/>
<path d="M584.06,586.83A31.6,31.6 0 0 1 589.62,588.40L586.33,596.99A22.4,22.4 0 0 0 582.38,595.88Z" fill="none" stroke="#1a282c" stroke-width="1.1" stroke-linejoin="round"/>
<path d="M589.62,588.40A31.6,31.6 0 0 1 594.81,590.96L590.00,598.80A22.4,22.4 0 0 0 586.33,596.99Z" fill="none" stroke="#1a282c" stroke-width="1.1" stroke-linejoin="round"/>
<path d="M594.81,590.96A31.6,31.6 0 0 1 599.44,594.42L593.29,601.25A22.4,22.4 0 0 0 590.00,598.80Z" fill="none" stroke="#1a282c" stroke-width="1.1" stroke-linejoin="round"/>
<path d="M599.44,594.42A31.6,31.6 0 0 1 603.37,598.66L596.07,604.26A22.4,22.4 0 0 0 593.29,601.25Z" fill="none" stroke="#1a282c" stroke-width="1.1" stroke-linejoin="round"/>
<path d="M603.37,598.66A31.6,31.6 0 0 1 606.46,603.55L598.26,607.73A22.4,22.4 0 0 0 596.07,604.26Z" fill="none" stroke="#1a282c" stroke-width="1.1" stroke-linejoin="round"/>
<path d="M606.46,603.55A31.6,31.6 0 0 1 608.60,608.93L599.78,611.54A22.4,22.4 0 0 0 598.26,607.73Z" fill="none" stroke="#1a282c" stroke-width="1.1" stroke-linejoin="round"/>
<path d="M608.60,608.93A31.6,31.6 0 0 1 609.73,614.60L600.58,615.56A22.4,22.4 0 0 0 599.78,611.54Z" fill="none" stroke="#1a282c" stroke-width="1.1" stroke-linejoin="round"/>
<path d="M609.73,614.60A31.6,31.6 0 0 1 609.80,620.38L600.63,619.66A22.4,22.4 0 0 0 600.58,615.56Z" fill="none" stroke="#1a282c" stroke-width="1.1" stroke-linejoin="round"/>
<path d="M609.80,620.38A31.6,31.6 0 0 1 608.82,626.08L599.94,623.70A22.4,22.4 0 0 0 600.63,619.66Z" fill="none" stroke="#1a282c" stroke-width="1.1" stroke-linejoin="round"/>
<path d="M616.51,621.71A38.4,38.4 0 0 1 615.59,627.06L608.99,625.44A31.6,31.6 0 0 0 609.74,621.04Z" fill="none" stroke="#1a282c" stroke-width="1.1" stroke-linejoin="round"/>
<path d="M622.78,622.34A44.7,44.7 0 0 1 621.71,628.56L615.59,627.06A38.4,38.4 0 0 0 616.51,621.71Z" fill="none" stroke="#1a282c" stroke-width="1.1" stroke-linejoin="round"/>
<path d="M608.82,626.08A31.6,31.6 0 0 1 606.82,631.50L598.52,627.54A22.4,22.4 0 0 0 599.94,623.70Z" fill="none" stroke="#1a282c" stroke-width="1.1" stroke-linejoin="round"/>
<path d="M606.82,631.50A31.6,31.6 0 0 1 603.86,636.47L596.42,631.07A22.4,22.4 0 0 0 598.52,627.54Z" fill="none" stroke="#1a282c" stroke-width="1.1" stroke-linejoin="round"/>
<path d="M603.86,636.47A31.6,31.6 0 0 1 600.05,640.82L593.72,634.15A22.4,22.4 0 0 0 596.42,631.07Z" fill="none" stroke="#1a282c" stroke-width="1.1" stroke-linejoin="round"/>
<path d="M600.05,640.82A31.6,31.6 0 0 1 595.51,644.40L590.50,636.69A22.4,22.4 0 0 0 593.72,634.15Z" fill="none" stroke="#1a282c" stroke-width="1.1" stroke-linejoin="round"/>
<path d="M595.51,644.40A31.6,31.6 0 0 1 590.39,647.09L586.87,638.59A22.4,22.4 0 0 0 590.50,636.69Z" fill="none" stroke="#1a282c" stroke-width="1.1" stroke-linejoin="round"/>
<path d="M590.39,647.09A31.6,31.6 0 0 1 584.87,648.81L582.96,639.81A22.4,22.4 0 0 0 586.87,638.59Z" fill="none" stroke="#1a282c" stroke-width="1.1" stroke-linejoin="round"/>
<path d="M584.87,648.81A31.6,31.6 0 0 1 579.13,649.49L578.89,640.29A22.4,22.4 0 0 0 582.96,639.81Z" fill="none" stroke="#1a282c" stroke-width="1.1" stroke-linejoin="round"/>
<path d="M579.13,649.49A31.6,31.6 0 0 1 573.36,649.11L574.80,640.02A22.4,22.4 0 0 0 578.89,640.29Z" fill="none" stroke="#1a282c" stroke-width="1.1" stroke-linejoin="round"/>
<path d="M573.36,649.11A31.6,31.6 0 0 1 567.75,647.69L570.82,639.02A22.4,22.4 0 0 0 574.80,640.02Z" fill="none" stroke="#1a282c" stroke-width="1.1" stroke-linejoin="round"/>
<path d="M571.50,655.69A38.4,38.4 0 0 1 566.24,654.36L568.38,647.90A31.6,31.6 0 0 0 572.70,649.00Z" fill="none" stroke="#1a282c" stroke-width="1.1" stroke-linejoin="round"/>
<path d="M567.75,647.69A31.6,31.6 0 0 1 562.50,645.27L567.10,637.30A22.4,22.4 0 0 0 570.82,639.02Z" fill="none" stroke="#1a282c" stroke-width="1.1" stroke-linejoin="round"/>
<path d="M562.50,645.27A31.6,31.6 0 0 1 557.78,641.93L563.75,634.93A22.4,22.4 0 0 0 567.10,637.30Z" fill="none" stroke="#1a282c" stroke-width="1.1" stroke-linejoin="round"/>
<path d="M558.41,650.75A38.4,38.4 0 0 1 553.98,647.62L558.29,642.35A31.6,31.6 0 0 0 561.93,644.93Z" fill="none" stroke="#1a282c" stroke-width="1.1" stroke-linejoin="round"/>
<path d="M555.14,656.13A44.7,44.7 0 0 1 549.99,652.49L553.98,647.62A38.4,38.4 0 0 0 558.41,650.75Z" fill="none" stroke="#1a282c" stroke-width="1.1" stroke-linejoin="round"/>
<path d="M557.78,641.93A31.6,31.6 0 0 1 553.74,637.79L560.89,632.00A22.4,22.4 0 0 0 563.75,634.93Z" fill="none" stroke="#1a282c" stroke-width="1.1" stroke-linejoin="round"/>
<path d="M553.74,637.79A31.6,31.6 0 0 1 550.53,632.98L558.61,628.59A22.4,22.4 0 0 0 560.89,632.00Z" fill="none" stroke="#1a282c" stroke-width="1.1" stroke-linejoin="round"/>
<path d="M547.96,641.44A38.4,38.4 0 0 1 544.94,636.93L550.85,633.56A31.6,31.6 0 0 0 553.33,637.27Z" fill="none" stroke="#1a282c" stroke-width="1.1" stroke-linejoin="round"/>
<path d="M550.53,632.98A31.6,31.6 0 0 1 548.25,627.66L557.00,624.82A22.4,22.4 0 0 0 558.61,628.59Z" fill="none" stroke="#1a282c" stroke-width="1.1" stroke-linejoin="round"/>
<path d="M548.25,627.66A31.6,31.6 0 0 1 546.97,622.02L556.09,620.82A22.4,22.4 0 0 0 557.00,624.82Z" fill="none" stroke="#1a282c" stroke-width="1.1" stroke-linejoin="round"/>
<path d="M546.97,622.02A31.6,31.6 0 0 1 546.74,616.25L555.93,616.73A22.4,22.4 0 0 0 556.09,620.82Z" fill="none" stroke="#1a282c" stroke-width="1.1" stroke-linejoin="round"/>
<path d="M546.74,616.25A31.6,31.6 0 0 1 547.57,610.52L556.52,612.67A22.4,22.4 0 0 0 555.93,616.73Z" fill="none" stroke="#1a282c" stroke-width="1.1" stroke-linejoin="round"/>
<path d="M547.57,610.52A31.6,31.6 0 0 1 549.43,605.05L557.84,608.79A22.4,22.4 0 0 0 556.52,612.67Z" fill="none" stroke="#1a282c" stroke-width="1.1" stroke-linejoin="round"/>
<path d="M541.16,608.16A38.4,38.4 0 0 1 542.90,603.02L549.17,605.65A31.6,31.6 0 0 0 547.73,609.88Z" fill="none" stroke="#1a282c" stroke-width="1.1" stroke-linejoin="round"/>
<path d="M549.43,605.05A31.6,31.6 0 0 1 552.26,600.00L559.84,605.21A22.4,22.4 0 0 0 557.84,608.79Z" fill="none" stroke="#1a282c" stroke-width="1.1" stroke-linejoin="round"/>
<path d="M552.26,600.00A31.6,31.6 0 0 1 555.96,595.56L562.46,602.06A22.4,22.4 0 0 0 559.84,605.21Z" fill="none" stroke="#1a282c" stroke-width="1.1" stroke-linejoin="round"/>
<path d="M511.10,299.40 C518.41,312.46 537.56,316.36 549.40,307.20 C542.09,294.14 522.94,290.24 511.10,299.40Z" fill="#7ac143"/>
<path d="M549.90,275.50 C539.83,283.89 541.53,298.04 553.30,303.80 C563.37,295.41 561.67,281.26 549.90,275.50Z" fill="#7ac143"/>
<path d="M552.40,310.00 C545.83,314.65 546.03,323.65 552.80,328.00 C559.37,323.35 559.17,314.35 552.40,310.00Z" fill="#7ac143"/>
<path d="M415.80,340.10 C412.80,357.54 427.10,371.24 444.40,367.50 C447.40,350.06 433.10,336.36 415.80,340.10Z" fill="#7ac143"/>
<path d="M394.50,398.30 C414.30,407.78 438.40,395.73 442.70,374.20 C422.90,364.72 398.80,376.77 394.50,398.30Z" fill="#7ac143"/>
<path d="M447.10,375.40 C444.26,386.39 452.71,396.19 464.00,395.00 C466.84,384.01 458.39,374.21 447.10,375.40Z" fill="#7ac143"/>
<path d="M628.90,352.90 C636.44,365.86 655.74,369.51 667.50,360.20 C659.96,347.24 640.66,343.59 628.90,352.90Z" fill="#7ac143"/>
<path d="M668.00,328.40 C658.07,336.67 659.67,350.77 671.20,356.60 C681.13,348.33 679.53,334.23 668.00,328.40Z" fill="#7ac143"/>
<path d="M670.70,363.30 C663.62,367.38 663.32,376.03 670.10,380.60 C677.18,376.52 677.48,367.87 670.70,363.30Z" fill="#7ac143"/>
<path d="M378.10,440.40 C385.39,453.52 404.64,457.57 416.60,448.50 C409.31,435.38 390.06,431.33 378.10,440.40Z" fill="#7ac143"/>
<path d="M417.00,416.70 C406.92,425.07 408.72,438.97 420.60,444.50 C430.68,436.13 428.88,422.23 417.00,416.70Z" fill="#7ac143"/>
<path d="M419.70,451.20 C412.71,455.35 412.46,464.05 419.20,468.60 C426.19,464.45 426.44,455.75 419.70,451.20Z" fill="#7ac143"/>
<path d="M658.10,428.40 C658.44,438.51 668.49,445.76 678.20,442.90 C677.86,432.79 667.81,425.54 658.10,428.40Z" fill="#7ac143"/>
<path d="M686.30,425.10 C678.55,427.27 675.70,435.82 680.60,442.20 C688.35,440.03 691.20,431.48 686.30,425.10Z" fill="#7ac143"/>
<path d="M679.60,445.90 C674.25,446.16 671.90,450.86 674.90,455.30 C680.25,455.04 682.60,450.34 679.60,445.90Z" fill="#7ac143"/>
<g fill="#163a5b" font-size="20.5" stroke="#163a5b" stroke-width="0.3">
<text x="578.17" y="307.9" textLength="34.6" lengthAdjust="spacingAndGlyphs">Eau</text>
</g>
<g fill="#163a5b" font-size="20.5" stroke="#163a5b" stroke-width="0.3">
<text x="476.06" y="377" textLength="108.8" lengthAdjust="spacingAndGlyphs">Biodiversité</text>
</g>
<g fill="#163a5b" font-size="20.5" stroke="#163a5b" stroke-width="0.3">
<text x="695.97" y="361.7" textLength="188.5" lengthAdjust="spacingAndGlyphs">Air, climat &amp; énergie</text>
</g>
<g fill="#163a5b" font-size="20.5" stroke="#163a5b" stroke-width="0.3">
<text x="444.67" y="449" textLength="54.7" lengthAdjust="spacingAndGlyphs">Santé</text>
</g>
<g fill="#163a5b" font-size="20.5" stroke="#163a5b" stroke-width="0.3">
<text x="702.77" y="442.8" textLength="175.6" lengthAdjust="spacingAndGlyphs">Cohésion sociale &amp;</text>
<text x="702.77" y="457.7" textLength="92.2" lengthAdjust="spacingAndGlyphs">économie</text>
</g>
</svg></body></html>
